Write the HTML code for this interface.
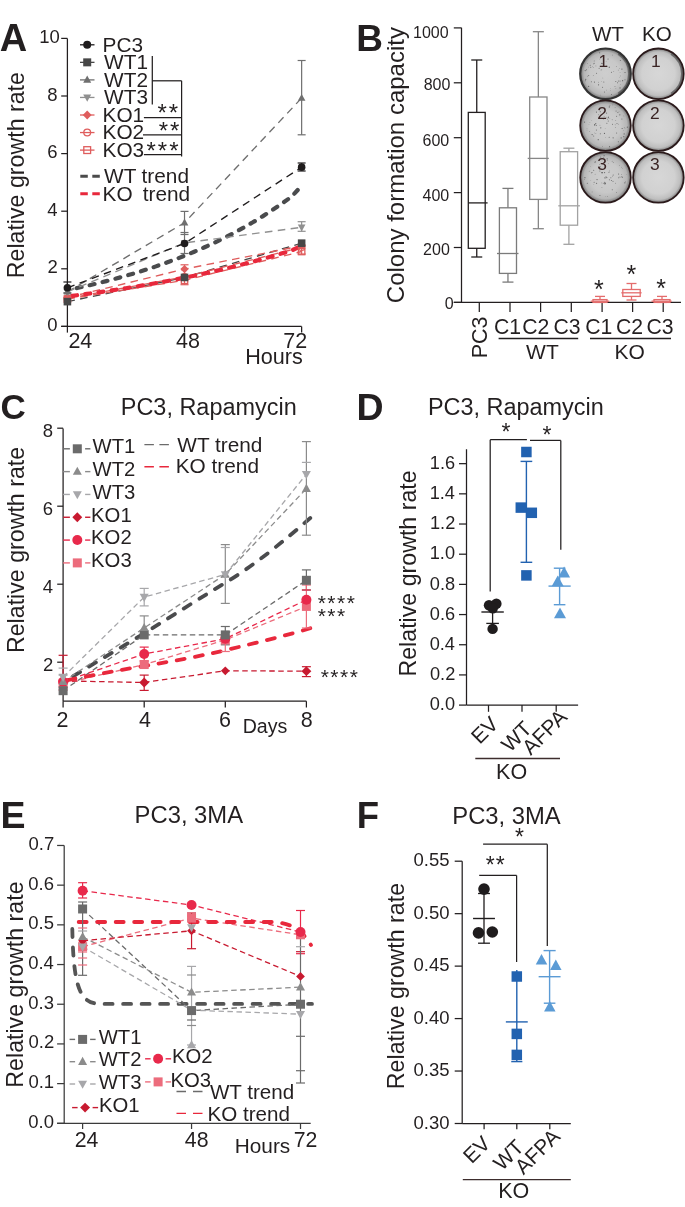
<!DOCTYPE html>
<html><head><meta charset="utf-8"><style>
html,body{margin:0;padding:0;background:#fff;overflow:hidden;width:685px;height:1207px;}
svg{display:block;font-family:"Liberation Sans", sans-serif;will-change:transform;}
</style></head><body>
<svg width="685" height="1207" viewBox="0 0 685 1207">
<rect width="685" height="1207" fill="#fff"/>
<text x="-0.25" y="51.4" font-size="38" font-weight="bold" fill="#231f20">A</text>
<line x1="67.4" y1="38.4" x2="67.4" y2="326.4" stroke="#231f20" stroke-width="1.25" stroke-linecap="butt"/>
<line x1="61.2" y1="326.4" x2="301.6" y2="326.4" stroke="#231f20" stroke-width="1.25" stroke-linecap="butt"/>
<line x1="61.2" y1="326.4" x2="67.4" y2="326.4" stroke="#231f20" stroke-width="1.25" stroke-linecap="butt"/>
<text x="47.28" y="331" font-size="18.5" fill="#231f20">0</text>
<line x1="61.2" y1="268.8" x2="67.4" y2="268.8" stroke="#231f20" stroke-width="1.25" stroke-linecap="butt"/>
<text x="47.56" y="273.4" font-size="18.5" fill="#231f20">2</text>
<line x1="61.2" y1="211.2" x2="67.4" y2="211.2" stroke="#231f20" stroke-width="1.25" stroke-linecap="butt"/>
<text x="47.19" y="215.8" font-size="18.5" fill="#231f20">4</text>
<line x1="61.2" y1="153.6" x2="67.4" y2="153.6" stroke="#231f20" stroke-width="1.25" stroke-linecap="butt"/>
<text x="47.37" y="158.2" font-size="18.5" fill="#231f20">6</text>
<line x1="61.2" y1="96" x2="67.4" y2="96" stroke="#231f20" stroke-width="1.25" stroke-linecap="butt"/>
<text x="47.37" y="100.6" font-size="18.5" fill="#231f20">8</text>
<line x1="61.2" y1="38.4" x2="67.4" y2="38.4" stroke="#231f20" stroke-width="1.25" stroke-linecap="butt"/>
<text x="39.31" y="43" font-size="18.5" fill="#231f20">10</text>
<line x1="67.4" y1="326.4" x2="67.4" y2="332.6" stroke="#231f20" stroke-width="1.25" stroke-linecap="butt"/>
<line x1="184.52" y1="326.4" x2="184.52" y2="332.6" stroke="#231f20" stroke-width="1.25" stroke-linecap="butt"/>
<line x1="301.64" y1="326.4" x2="301.64" y2="332.6" stroke="#231f20" stroke-width="1.25" stroke-linecap="butt"/>
<text x="68.42" y="348.4" font-size="21.5" fill="#231f20">24</text>
<text x="175.97" y="348.4" font-size="21.5" fill="#231f20">48</text>
<text x="283.23" y="348.4" font-size="21.5" fill="#231f20">72</text>
<text x="245.17" y="363.8" font-size="21.6" fill="#231f20">Hours</text>
<text transform="translate(23.7,278.26) rotate(-90)" font-size="23.2" fill="#231f20">Relative growth rate</text>
<polyline points="297.7,190 291.88,196.44 282.12,203.45 272.36,210.08 262.6,216.36 252.84,222.3 243.08,227.91 233.32,233.23 223.56,238.26 213.8,243.01 204.04,247.51 194.28,251.77 184.52,255.79 174.76,259.6 165,263.21 155.24,266.62 145.48,269.84 135.72,272.9 125.96,275.78 116.2,278.51 106.44,281.1 96.68,283.54 86.92,285.85 77.16,288.04 67.4,290.11" fill="none" stroke="#4a4b4d" stroke-width="4.2" stroke-linecap="round" stroke-linejoin="round" stroke-dasharray="5 8.3"/>
<polyline points="67.4,291.84 184.52,222.72 301.64,98.02" fill="none" stroke="#6f6f6f" stroke-width="1.35" stroke-linecap="butt" stroke-linejoin="round" stroke-dasharray="7.6 5.4"/>
<polyline points="67.4,291.84 184.52,242.88 301.64,227.33" fill="none" stroke="#909090" stroke-width="1.35" stroke-linecap="butt" stroke-linejoin="round" stroke-dasharray="7.6 5.4"/>
<polyline points="67.4,287.81 184.52,243.46 301.64,167.14" fill="none" stroke="#1f1c1d" stroke-width="1.35" stroke-linecap="butt" stroke-linejoin="round" stroke-dasharray="7.6 5.4"/>
<polyline points="67.4,301.63 184.52,277.44 301.64,243.17" fill="none" stroke="#474747" stroke-width="1.35" stroke-linecap="butt" stroke-linejoin="round" stroke-dasharray="7.6 5.4"/>
<polyline points="67.4,297.6 184.52,269.09 301.64,245.76" fill="none" stroke="#df5d5d" stroke-width="1.35" stroke-linecap="butt" stroke-linejoin="round" stroke-dasharray="7.6 5.4"/>
<polyline points="67.4,298.46 184.52,276.86 301.64,247.2" fill="none" stroke="#df5d5d" stroke-width="1.35" stroke-linecap="butt" stroke-linejoin="round" stroke-dasharray="7.6 5.4"/>
<polyline points="67.4,299.04 184.52,280.32 301.64,251.52" fill="none" stroke="#df5d5d" stroke-width="1.35" stroke-linecap="butt" stroke-linejoin="round" stroke-dasharray="7.6 5.4"/>
<polyline points="297.7,247.7 291.88,250.34 282.12,253.36 272.36,256.26 262.6,259.05 252.84,261.72 243.08,264.29 233.32,266.76 223.56,269.13 213.8,271.4 204.04,273.58 194.28,275.68 184.52,277.69 174.76,279.63 165,281.49 155.24,283.27 145.48,284.98 135.72,286.63 125.96,288.21 116.2,289.72 106.44,291.18 96.68,292.58 86.92,293.92 77.16,295.21 67.4,296.45" fill="none" stroke="#e8283c" stroke-width="4.2" stroke-linecap="round" stroke-linejoin="round" stroke-dasharray="5 8.3"/>
<line x1="301.64" y1="60.5" x2="301.64" y2="134.8" stroke="#6f6f6f" stroke-width="1.2" stroke-linecap="butt"/>
<line x1="297.64" y1="60.5" x2="305.64" y2="60.5" stroke="#6f6f6f" stroke-width="1.2" stroke-linecap="butt"/>
<line x1="297.64" y1="134.8" x2="305.64" y2="134.8" stroke="#6f6f6f" stroke-width="1.2" stroke-linecap="butt"/>
<line x1="184.52" y1="211.4" x2="184.52" y2="234.5" stroke="#6f6f6f" stroke-width="1.2" stroke-linecap="butt"/>
<line x1="180.52" y1="211.4" x2="188.52" y2="211.4" stroke="#6f6f6f" stroke-width="1.2" stroke-linecap="butt"/>
<line x1="180.52" y1="234.5" x2="188.52" y2="234.5" stroke="#6f6f6f" stroke-width="1.2" stroke-linecap="butt"/>
<line x1="184.52" y1="232.5" x2="184.52" y2="253.5" stroke="#6f6f6f" stroke-width="1.2" stroke-linecap="butt"/>
<line x1="180.52" y1="232.5" x2="188.52" y2="232.5" stroke="#6f6f6f" stroke-width="1.2" stroke-linecap="butt"/>
<line x1="180.52" y1="253.5" x2="188.52" y2="253.5" stroke="#6f6f6f" stroke-width="1.2" stroke-linecap="butt"/>
<line x1="301.64" y1="163" x2="301.64" y2="171" stroke="#1f1c1d" stroke-width="1.2" stroke-linecap="butt"/>
<line x1="297.64" y1="163" x2="305.64" y2="163" stroke="#1f1c1d" stroke-width="1.2" stroke-linecap="butt"/>
<line x1="297.64" y1="171" x2="305.64" y2="171" stroke="#1f1c1d" stroke-width="1.2" stroke-linecap="butt"/>
<line x1="301.64" y1="221.7" x2="301.64" y2="231.3" stroke="#909090" stroke-width="1.2" stroke-linecap="butt"/>
<line x1="297.64" y1="221.7" x2="305.64" y2="221.7" stroke="#909090" stroke-width="1.2" stroke-linecap="butt"/>
<line x1="297.64" y1="231.3" x2="305.64" y2="231.3" stroke="#909090" stroke-width="1.2" stroke-linecap="butt"/>
<line x1="67.4" y1="282" x2="67.4" y2="293" stroke="#1f1c1d" stroke-width="1.2" stroke-linecap="butt"/>
<line x1="63.4" y1="282" x2="71.4" y2="282" stroke="#1f1c1d" stroke-width="1.2" stroke-linecap="butt"/>
<line x1="63.4" y1="293" x2="71.4" y2="293" stroke="#1f1c1d" stroke-width="1.2" stroke-linecap="butt"/>
<line x1="184.52" y1="264.8" x2="184.52" y2="284.7" stroke="#df5d5d" stroke-width="1.2" stroke-linecap="butt"/>
<line x1="180.52" y1="264.8" x2="188.52" y2="264.8" stroke="#df5d5d" stroke-width="1.2" stroke-linecap="butt"/>
<line x1="180.52" y1="284.7" x2="188.52" y2="284.7" stroke="#df5d5d" stroke-width="1.2" stroke-linecap="butt"/>
<line x1="301.64" y1="245" x2="301.64" y2="254" stroke="#df5d5d" stroke-width="1.2" stroke-linecap="butt"/>
<line x1="297.64" y1="245" x2="305.64" y2="245" stroke="#df5d5d" stroke-width="1.2" stroke-linecap="butt"/>
<line x1="297.64" y1="254" x2="305.64" y2="254" stroke="#df5d5d" stroke-width="1.2" stroke-linecap="butt"/>
<rect x="64.2" y="295.84" width="6.4" height="6.4" fill="none" stroke="#df5d5d" stroke-width="1.3"/>
<rect x="181.32" y="277.12" width="6.4" height="6.4" fill="none" stroke="#df5d5d" stroke-width="1.3"/>
<rect x="298.44" y="248.32" width="6.4" height="6.4" fill="none" stroke="#df5d5d" stroke-width="1.3"/>
<circle cx="67.4" cy="298.46" r="3.2" fill="none" stroke="#df5d5d" stroke-width="1.3"/>
<circle cx="184.52" cy="276.86" r="3.2" fill="none" stroke="#df5d5d" stroke-width="1.3"/>
<circle cx="301.64" cy="247.2" r="3.2" fill="none" stroke="#df5d5d" stroke-width="1.3"/>
<polygon points="67.4,293.42 71.58,297.6 67.4,301.78 63.22,297.6" fill="#df5d5d"/>
<polygon points="184.52,264.91 188.7,269.09 184.52,273.27 180.34,269.09" fill="#df5d5d"/>
<polygon points="301.64,241.58 305.82,245.76 301.64,249.94 297.46,245.76" fill="#df5d5d"/>
<polygon points="67.4,295.94 71.2,289.1 63.6,289.1" fill="#909090"/>
<polygon points="184.52,246.98 188.32,240.14 180.72,240.14" fill="#909090"/>
<polygon points="301.64,231.43 305.44,224.59 297.84,224.59" fill="#909090"/>
<polygon points="67.4,287.74 71.2,294.58 63.6,294.58" fill="#6f6f6f"/>
<polygon points="184.52,218.62 188.32,225.46 180.72,225.46" fill="#6f6f6f"/>
<polygon points="301.64,93.91 305.44,100.75 297.84,100.75" fill="#6f6f6f"/>
<rect x="63.6" y="297.83" width="7.6" height="7.6" fill="#474747" stroke="none" stroke-width="1"/>
<rect x="180.72" y="273.64" width="7.6" height="7.6" fill="#474747" stroke="none" stroke-width="1"/>
<rect x="297.84" y="239.37" width="7.6" height="7.6" fill="#474747" stroke="none" stroke-width="1"/>
<circle cx="67.4" cy="287.81" r="3.8" fill="#1f1c1d" stroke="none" stroke-width="1"/>
<circle cx="184.52" cy="243.46" r="3.8" fill="#1f1c1d" stroke="none" stroke-width="1"/>
<circle cx="301.64" cy="167.14" r="3.8" fill="#1f1c1d" stroke="none" stroke-width="1"/>
<line x1="80" y1="44.8" x2="94.5" y2="44.8" stroke="#1f1c1d" stroke-width="1.3" stroke-linecap="butt"/>
<circle cx="87.2" cy="44.8" r="4" fill="#1f1c1d" stroke="none" stroke-width="1"/>
<text x="102.54" y="51.6" font-size="20.8" fill="#231f20">PC3</text>
<line x1="80" y1="62.35" x2="94.5" y2="62.35" stroke="#474747" stroke-width="1.3" stroke-linecap="butt"/>
<rect x="83.2" y="58.35" width="8" height="8" fill="#474747" stroke="none" stroke-width="1"/>
<text x="104.1" y="69.15" font-size="20.8" fill="#231f20">WT1</text>
<line x1="80" y1="79.9" x2="94.5" y2="79.9" stroke="#6f6f6f" stroke-width="1.3" stroke-linecap="butt"/>
<polygon points="87.2,75.58 91.2,82.78 83.2,82.78" fill="#6f6f6f"/>
<text x="104.1" y="86.7" font-size="20.8" fill="#231f20">WT2</text>
<line x1="80" y1="97.45" x2="94.5" y2="97.45" stroke="#909090" stroke-width="1.3" stroke-linecap="butt"/>
<polygon points="87.2,101.77 91.2,94.57 83.2,94.57" fill="#909090"/>
<text x="104.1" y="104.25" font-size="20.8" fill="#231f20">WT3</text>
<line x1="80" y1="115" x2="94.5" y2="115" stroke="#df5d5d" stroke-width="1.3" stroke-linecap="butt"/>
<polygon points="87.2,110.6 91.6,115 87.2,119.4 82.8,115" fill="#df5d5d"/>
<text x="102.54" y="121.8" font-size="20.8" fill="#231f20">KO1</text>
<line x1="80" y1="132.55" x2="94.5" y2="132.55" stroke="#df5d5d" stroke-width="1.3" stroke-linecap="butt"/>
<circle cx="87.2" cy="132.55" r="3.4" fill="none" stroke="#df5d5d" stroke-width="1.3"/>
<text x="102.54" y="139.35" font-size="20.8" fill="#231f20">KO2</text>
<line x1="80" y1="150.1" x2="94.5" y2="150.1" stroke="#df5d5d" stroke-width="1.3" stroke-linecap="butt"/>
<rect x="83.8" y="146.7" width="6.8" height="6.8" fill="none" stroke="#df5d5d" stroke-width="1.3"/>
<text x="102.54" y="156.9" font-size="20.8" fill="#231f20">KO3</text>
<line x1="152.3" y1="56" x2="152.3" y2="104.4" stroke="#231f20" stroke-width="1.25" stroke-linecap="butt"/>
<line x1="152.3" y1="80.8" x2="181.6" y2="80.8" stroke="#231f20" stroke-width="1.25" stroke-linecap="butt"/>
<line x1="181.6" y1="80.8" x2="181.6" y2="156.5" stroke="#231f20" stroke-width="1.25" stroke-linecap="butt"/>
<line x1="143.9" y1="117.5" x2="181.6" y2="117.5" stroke="#231f20" stroke-width="1.25" stroke-linecap="butt"/>
<line x1="143" y1="134.9" x2="181.6" y2="134.9" stroke="#231f20" stroke-width="1.25" stroke-linecap="butt"/>
<line x1="143.9" y1="154.5" x2="181.6" y2="154.5" stroke="#231f20" stroke-width="1.25" stroke-linecap="butt"/>
<text x="157.54" y="120.7" font-size="24" fill="#231f20" letter-spacing="2">**</text>
<text x="158.74" y="139.3" font-size="24" fill="#231f20" letter-spacing="2">**</text>
<text x="146.54" y="159" font-size="24" fill="#231f20" letter-spacing="2">***</text>
<line x1="80.3" y1="176.3" x2="101" y2="176.3" stroke="#4b4b4b" stroke-width="3.0" stroke-linecap="butt" stroke-dasharray="7.5 4.5"/>
<text x="104.1" y="183.3" font-size="20.8" fill="#231f20">WT</text>
<text x="141.59" y="183.3" font-size="20.8" fill="#231f20">trend</text>
<line x1="80.3" y1="193.7" x2="101" y2="193.7" stroke="#e8283c" stroke-width="3.0" stroke-linecap="butt" stroke-dasharray="7.5 4.5"/>
<text x="102.54" y="200.7" font-size="20.8" fill="#231f20">KO</text>
<text x="142.69" y="200.7" font-size="20.8" fill="#231f20">trend</text>
<text x="356.2" y="50.9" font-size="37" font-weight="bold" fill="#231f20">B</text>
<line x1="461.5" y1="27.8" x2="461.5" y2="302.4" stroke="#231f20" stroke-width="1.25" stroke-linecap="butt"/>
<line x1="453.8" y1="302.4" x2="681" y2="302.4" stroke="#231f20" stroke-width="1.25" stroke-linecap="butt"/>
<line x1="453.8" y1="27.9" x2="461.5" y2="27.9" stroke="#231f20" stroke-width="1.25" stroke-linecap="butt"/>
<text x="413.06" y="37.8" font-size="16" fill="#231f20">1000</text>
<line x1="453.8" y1="82.8" x2="461.5" y2="82.8" stroke="#231f20" stroke-width="1.25" stroke-linecap="butt"/>
<text x="423.72" y="89.9" font-size="16" fill="#231f20">800</text>
<line x1="453.8" y1="137.7" x2="461.5" y2="137.7" stroke="#231f20" stroke-width="1.25" stroke-linecap="butt"/>
<text x="422.52" y="146.2" font-size="16" fill="#231f20">600</text>
<line x1="453.8" y1="192.6" x2="461.5" y2="192.6" stroke="#231f20" stroke-width="1.25" stroke-linecap="butt"/>
<text x="422.52" y="200.9" font-size="16" fill="#231f20">400</text>
<line x1="453.8" y1="247.5" x2="461.5" y2="247.5" stroke="#231f20" stroke-width="1.25" stroke-linecap="butt"/>
<text x="423.12" y="254.5" font-size="16" fill="#231f20">200</text>
<line x1="453.8" y1="302.4" x2="461.5" y2="302.4" stroke="#231f20" stroke-width="1.25" stroke-linecap="butt"/>
<text x="444.68" y="308.8" font-size="16" fill="#231f20">0</text>
<text transform="translate(404,303.2) rotate(-90)" font-size="24" fill="#231f20">Colony formation capacity</text>
<line x1="479.3" y1="302.4" x2="479.3" y2="312" stroke="#231f20" stroke-width="1.25" stroke-linecap="butt"/>
<line x1="510" y1="302.4" x2="510" y2="312" stroke="#231f20" stroke-width="1.25" stroke-linecap="butt"/>
<line x1="540.6" y1="302.4" x2="540.6" y2="312" stroke="#231f20" stroke-width="1.25" stroke-linecap="butt"/>
<line x1="571.3" y1="302.4" x2="571.3" y2="312" stroke="#231f20" stroke-width="1.25" stroke-linecap="butt"/>
<line x1="602.1" y1="302.4" x2="602.1" y2="312" stroke="#231f20" stroke-width="1.25" stroke-linecap="butt"/>
<line x1="632.6" y1="302.4" x2="632.6" y2="312" stroke="#231f20" stroke-width="1.25" stroke-linecap="butt"/>
<line x1="663.2" y1="302.4" x2="663.2" y2="312" stroke="#231f20" stroke-width="1.25" stroke-linecap="butt"/>
<line x1="476.75" y1="60" x2="476.75" y2="112.4" stroke="#231f20" stroke-width="1.3" stroke-linecap="butt"/>
<line x1="476.75" y1="248.3" x2="476.75" y2="257" stroke="#231f20" stroke-width="1.3" stroke-linecap="butt"/>
<line x1="471.25" y1="60" x2="482.25" y2="60" stroke="#231f20" stroke-width="1.3" stroke-linecap="butt"/>
<line x1="471.25" y1="257" x2="482.25" y2="257" stroke="#231f20" stroke-width="1.3" stroke-linecap="butt"/>
<rect x="468.3" y="112.4" width="16.9" height="135.9" fill="none" stroke="#231f20" stroke-width="1.3"/>
<line x1="468.3" y1="202.9" x2="487.6" y2="202.9" stroke="#231f20" stroke-width="1.3" stroke-linecap="butt"/>
<line x1="507.95" y1="188.4" x2="507.95" y2="207.8" stroke="#7b7b7b" stroke-width="1.3" stroke-linecap="butt"/>
<line x1="507.95" y1="273.4" x2="507.95" y2="282.1" stroke="#7b7b7b" stroke-width="1.3" stroke-linecap="butt"/>
<line x1="502.45" y1="188.4" x2="513.45" y2="188.4" stroke="#7b7b7b" stroke-width="1.3" stroke-linecap="butt"/>
<line x1="502.45" y1="282.1" x2="513.45" y2="282.1" stroke="#7b7b7b" stroke-width="1.3" stroke-linecap="butt"/>
<rect x="499.4" y="207.8" width="17.1" height="65.6" fill="none" stroke="#7b7b7b" stroke-width="1.3"/>
<line x1="497" y1="253.5" x2="518.5" y2="253.5" stroke="#7b7b7b" stroke-width="1.3" stroke-linecap="butt"/>
<line x1="538.35" y1="31.7" x2="538.35" y2="97" stroke="#878787" stroke-width="1.3" stroke-linecap="butt"/>
<line x1="538.35" y1="199.4" x2="538.35" y2="228.7" stroke="#878787" stroke-width="1.3" stroke-linecap="butt"/>
<line x1="532.85" y1="31.7" x2="543.85" y2="31.7" stroke="#878787" stroke-width="1.3" stroke-linecap="butt"/>
<line x1="532.85" y1="228.7" x2="543.85" y2="228.7" stroke="#878787" stroke-width="1.3" stroke-linecap="butt"/>
<rect x="529.7" y="97" width="17.3" height="102.4" fill="none" stroke="#878787" stroke-width="1.3"/>
<line x1="527.7" y1="158.4" x2="548.8" y2="158.4" stroke="#878787" stroke-width="1.3" stroke-linecap="butt"/>
<line x1="568.9" y1="148.2" x2="568.9" y2="151.7" stroke="#a2a2a2" stroke-width="1.3" stroke-linecap="butt"/>
<line x1="568.9" y1="225.2" x2="568.9" y2="244.3" stroke="#a2a2a2" stroke-width="1.3" stroke-linecap="butt"/>
<line x1="563.4" y1="148.2" x2="574.4" y2="148.2" stroke="#a2a2a2" stroke-width="1.3" stroke-linecap="butt"/>
<line x1="563.4" y1="244.3" x2="574.4" y2="244.3" stroke="#a2a2a2" stroke-width="1.3" stroke-linecap="butt"/>
<rect x="560.2" y="151.7" width="17.4" height="73.5" fill="none" stroke="#a2a2a2" stroke-width="1.3"/>
<line x1="558.3" y1="205.8" x2="579.9" y2="205.8" stroke="#a2a2a2" stroke-width="1.3" stroke-linecap="butt"/>
<line x1="600" y1="296.4" x2="600" y2="299.6" stroke="#e46c6c" stroke-width="1.3" stroke-linecap="butt"/>
<line x1="600" y1="302.4" x2="600" y2="302.4" stroke="#e46c6c" stroke-width="1.3" stroke-linecap="butt"/>
<line x1="595" y1="296.4" x2="605" y2="296.4" stroke="#e46c6c" stroke-width="1.3" stroke-linecap="butt"/>
<line x1="595" y1="302.4" x2="605" y2="302.4" stroke="#e46c6c" stroke-width="1.3" stroke-linecap="butt"/>
<rect x="593" y="299.6" width="14" height="2.8" fill="none" stroke="#e46c6c" stroke-width="1.3"/>
<line x1="590.7" y1="301.2" x2="609.3" y2="301.2" stroke="#e46c6c" stroke-width="1.3" stroke-linecap="butt"/>
<line x1="631.5" y1="283.5" x2="631.5" y2="289.5" stroke="#e46c6c" stroke-width="1.3" stroke-linecap="butt"/>
<line x1="631.5" y1="296.4" x2="631.5" y2="300" stroke="#e46c6c" stroke-width="1.3" stroke-linecap="butt"/>
<line x1="626.5" y1="283.5" x2="636.5" y2="283.5" stroke="#e46c6c" stroke-width="1.3" stroke-linecap="butt"/>
<line x1="626.5" y1="300" x2="636.5" y2="300" stroke="#e46c6c" stroke-width="1.3" stroke-linecap="butt"/>
<rect x="622.8" y="289.5" width="17.4" height="6.9" fill="none" stroke="#e46c6c" stroke-width="1.3"/>
<line x1="621.3" y1="292.8" x2="641.6" y2="292.8" stroke="#e46c6c" stroke-width="1.3" stroke-linecap="butt"/>
<line x1="662" y1="296.4" x2="662" y2="299.6" stroke="#e46c6c" stroke-width="1.3" stroke-linecap="butt"/>
<line x1="662" y1="302.4" x2="662" y2="302.4" stroke="#e46c6c" stroke-width="1.3" stroke-linecap="butt"/>
<line x1="657" y1="296.4" x2="667" y2="296.4" stroke="#e46c6c" stroke-width="1.3" stroke-linecap="butt"/>
<line x1="657" y1="302.4" x2="667" y2="302.4" stroke="#e46c6c" stroke-width="1.3" stroke-linecap="butt"/>
<rect x="654" y="299.6" width="16" height="2.8" fill="none" stroke="#e46c6c" stroke-width="1.3"/>
<line x1="651.5" y1="301.2" x2="671.6" y2="301.2" stroke="#e46c6c" stroke-width="1.3" stroke-linecap="butt"/>
<text x="594.12" y="298.25" font-size="25" fill="#231f20">*</text>
<text x="626.42" y="282.75" font-size="25" fill="#231f20">*</text>
<text x="656.23" y="296.65" font-size="25" fill="#231f20">*</text>
<text transform="translate(487.2,358.32) rotate(-90)" font-size="21.5" fill="#231f20">PC3</text>
<text x="493.94" y="334" font-size="21.2" fill="#231f20">C1</text>
<text x="522.24" y="334" font-size="21.2" fill="#231f20">C2</text>
<text x="553.44" y="334" font-size="21.2" fill="#231f20">C3</text>
<text x="585.24" y="334" font-size="21.2" fill="#231f20">C1</text>
<text x="615.94" y="334" font-size="21.2" fill="#231f20">C2</text>
<text x="646.54" y="334" font-size="21.2" fill="#231f20">C3</text>
<line x1="498.6" y1="338.6" x2="578.2" y2="338.6" stroke="#231f20" stroke-width="1.5" stroke-linecap="butt"/>
<line x1="590" y1="338.6" x2="671" y2="338.6" stroke="#231f20" stroke-width="1.5" stroke-linecap="butt"/>
<text x="526.1" y="359" font-size="21" fill="#231f20">WT</text>
<text x="614.52" y="359" font-size="21" fill="#231f20">KO</text>
<defs>
<radialGradient id="pw" cx="0.5" cy="0.5" r="0.5"><stop offset="0" stop-color="#cecece"/><stop offset="0.6" stop-color="#c8c8c8"/><stop offset="0.85" stop-color="#b6b6b6"/><stop offset="0.95" stop-color="#888"/><stop offset="1" stop-color="#4a4a4a"/></radialGradient>
<radialGradient id="pk" cx="0.5" cy="0.5" r="0.5"><stop offset="0" stop-color="#d7d7d7"/><stop offset="0.65" stop-color="#d1d1d1"/><stop offset="0.87" stop-color="#bebebe"/><stop offset="0.96" stop-color="#8e8e8e"/><stop offset="1" stop-color="#555"/></radialGradient>
</defs>
<circle cx="605.5" cy="73.8" r="25.3" fill="url(#pw)" stroke="#333" stroke-width="2.2"/>
<path d="M618.25,53.94 A23.6,23.6 0 0 1 618.25,93.66" fill="none" stroke="#3a3a3a" stroke-width="2" opacity="0.55"/>
<circle cx="601.68" cy="81.44" r="0.3" fill="#666" stroke="none" stroke-width="1"/>
<circle cx="619.97" cy="80.88" r="0.5" fill="#666" stroke="none" stroke-width="1"/>
<circle cx="587.29" cy="63.37" r="0.4" fill="#666" stroke="none" stroke-width="1"/>
<circle cx="619.59" cy="77.18" r="0.3" fill="#666" stroke="none" stroke-width="1"/>
<circle cx="606.46" cy="90.1" r="0.3" fill="#666" stroke="none" stroke-width="1"/>
<circle cx="609.09" cy="66.94" r="0.4" fill="#666" stroke="none" stroke-width="1"/>
<circle cx="594.05" cy="61.51" r="0.3" fill="#666" stroke="none" stroke-width="1"/>
<circle cx="593.24" cy="67.35" r="0.4" fill="#666" stroke="none" stroke-width="1"/>
<circle cx="625.02" cy="79.68" r="0.5" fill="#666" stroke="none" stroke-width="1"/>
<circle cx="591.37" cy="81.67" r="0.5" fill="#666" stroke="none" stroke-width="1"/>
<circle cx="588.62" cy="67.09" r="0.3" fill="#666" stroke="none" stroke-width="1"/>
<circle cx="590.18" cy="65.18" r="0.5" fill="#666" stroke="none" stroke-width="1"/>
<circle cx="620.69" cy="84.47" r="0.3" fill="#666" stroke="none" stroke-width="1"/>
<circle cx="594.13" cy="63.26" r="0.6" fill="#666" stroke="none" stroke-width="1"/>
<circle cx="608.05" cy="59.01" r="0.6" fill="#666" stroke="none" stroke-width="1"/>
<circle cx="598.43" cy="82.18" r="0.4" fill="#666" stroke="none" stroke-width="1"/>
<circle cx="602.07" cy="63.48" r="0.5" fill="#666" stroke="none" stroke-width="1"/>
<circle cx="585.18" cy="70.56" r="0.6" fill="#666" stroke="none" stroke-width="1"/>
<circle cx="600.36" cy="94.97" r="0.3" fill="#666" stroke="none" stroke-width="1"/>
<circle cx="596.59" cy="73.13" r="0.5" fill="#666" stroke="none" stroke-width="1"/>
<circle cx="614.39" cy="86.36" r="0.3" fill="#666" stroke="none" stroke-width="1"/>
<circle cx="611.46" cy="72.35" r="0.5" fill="#666" stroke="none" stroke-width="1"/>
<circle cx="598.52" cy="84.79" r="0.6" fill="#666" stroke="none" stroke-width="1"/>
<circle cx="592.47" cy="66.65" r="0.3" fill="#666" stroke="none" stroke-width="1"/>
<circle cx="619.74" cy="68.64" r="0.3" fill="#666" stroke="none" stroke-width="1"/>
<circle cx="622.6" cy="80.65" r="0.6" fill="#666" stroke="none" stroke-width="1"/>
<circle cx="602.55" cy="87.14" r="0.5" fill="#666" stroke="none" stroke-width="1"/>
<circle cx="620.3" cy="75.91" r="0.4" fill="#666" stroke="none" stroke-width="1"/>
<circle cx="593.65" cy="63.88" r="0.4" fill="#666" stroke="none" stroke-width="1"/>
<circle cx="606.4" cy="65.94" r="0.4" fill="#666" stroke="none" stroke-width="1"/>
<circle cx="588.62" cy="86.41" r="0.6" fill="#666" stroke="none" stroke-width="1"/>
<circle cx="618.39" cy="80.95" r="0.5" fill="#666" stroke="none" stroke-width="1"/>
<circle cx="620.3" cy="60.48" r="0.5" fill="#666" stroke="none" stroke-width="1"/>
<circle cx="599.59" cy="52.77" r="0.6" fill="#666" stroke="none" stroke-width="1"/>
<circle cx="613.75" cy="71.56" r="0.4" fill="#666" stroke="none" stroke-width="1"/>
<circle cx="615.88" cy="88.33" r="0.3" fill="#666" stroke="none" stroke-width="1"/>
<circle cx="588.69" cy="75.39" r="0.5" fill="#666" stroke="none" stroke-width="1"/>
<circle cx="603.83" cy="82.03" r="0.5" fill="#666" stroke="none" stroke-width="1"/>
<circle cx="595.92" cy="65.9" r="0.4" fill="#666" stroke="none" stroke-width="1"/>
<circle cx="599.73" cy="59.1" r="0.3" fill="#666" stroke="none" stroke-width="1"/>
<circle cx="585.73" cy="79.33" r="0.6" fill="#666" stroke="none" stroke-width="1"/>
<circle cx="594.43" cy="82.05" r="0.6" fill="#666" stroke="none" stroke-width="1"/>
<circle cx="601.85" cy="69.7" r="0.3" fill="#666" stroke="none" stroke-width="1"/>
<circle cx="620.04" cy="72.39" r="0.3" fill="#666" stroke="none" stroke-width="1"/>
<circle cx="602.8" cy="78.06" r="0.3" fill="#666" stroke="none" stroke-width="1"/>
<circle cx="590.78" cy="67.24" r="0.5" fill="#666" stroke="none" stroke-width="1"/>
<circle cx="601.09" cy="69.98" r="0.4" fill="#666" stroke="none" stroke-width="1"/>
<circle cx="599.11" cy="68.23" r="0.5" fill="#666" stroke="none" stroke-width="1"/>
<circle cx="621.91" cy="69.08" r="0.6" fill="#666" stroke="none" stroke-width="1"/>
<circle cx="620.03" cy="87.94" r="0.6" fill="#666" stroke="none" stroke-width="1"/>
<circle cx="593.31" cy="75.31" r="0.4" fill="#666" stroke="none" stroke-width="1"/>
<circle cx="615.81" cy="81.51" r="0.5" fill="#666" stroke="none" stroke-width="1"/>
<circle cx="587.36" cy="76.25" r="0.3" fill="#666" stroke="none" stroke-width="1"/>
<circle cx="611.46" cy="94.42" r="0.5" fill="#666" stroke="none" stroke-width="1"/>
<circle cx="615.31" cy="86.71" r="0.3" fill="#666" stroke="none" stroke-width="1"/>
<circle cx="606.11" cy="61.8" r="0.3" fill="#666" stroke="none" stroke-width="1"/>
<circle cx="601.77" cy="63.19" r="0.5" fill="#666" stroke="none" stroke-width="1"/>
<circle cx="616.5" cy="66.65" r="0.4" fill="#666" stroke="none" stroke-width="1"/>
<circle cx="586.49" cy="69.85" r="0.5" fill="#666" stroke="none" stroke-width="1"/>
<circle cx="594.22" cy="60.78" r="0.4" fill="#666" stroke="none" stroke-width="1"/>
<circle cx="612.37" cy="55.12" r="0.4" fill="#666" stroke="none" stroke-width="1"/>
<circle cx="610.28" cy="88.49" r="0.3" fill="#666" stroke="none" stroke-width="1"/>
<circle cx="625.01" cy="72.52" r="0.6" fill="#666" stroke="none" stroke-width="1"/>
<circle cx="604.45" cy="92.08" r="0.5" fill="#666" stroke="none" stroke-width="1"/>
<circle cx="585.36" cy="80.73" r="0.5" fill="#666" stroke="none" stroke-width="1"/>
<circle cx="618.26" cy="70.09" r="0.4" fill="#666" stroke="none" stroke-width="1"/>
<circle cx="617.58" cy="82.83" r="0.5" fill="#666" stroke="none" stroke-width="1"/>
<circle cx="610.42" cy="90.47" r="0.3" fill="#666" stroke="none" stroke-width="1"/>
<circle cx="587.87" cy="76.09" r="0.3" fill="#666" stroke="none" stroke-width="1"/>
<circle cx="609.36" cy="67.23" r="0.6" fill="#666" stroke="none" stroke-width="1"/>
<text x="598.6" y="66.8" font-size="17.4" fill="#3a2424">1</text>
<circle cx="658.4" cy="73.8" r="25.3" fill="url(#pk)" stroke="#2b1a1b" stroke-width="1.8"/>
<path d="M671.15,53.94 A23.6,23.6 0 0 1 671.15,93.66" fill="none" stroke="#3a3a3a" stroke-width="2" opacity="0.55"/>
<text x="650.9" y="66.8" font-size="17.4" fill="#3a2424">1</text>
<circle cx="605.5" cy="125.6" r="25.3" fill="url(#pw)" stroke="#2b1a1b" stroke-width="1.8"/>
<circle cx="609.34" cy="106.94" r="0.6" fill="#666" stroke="none" stroke-width="1"/>
<circle cx="616.61" cy="116.29" r="0.5" fill="#666" stroke="none" stroke-width="1"/>
<circle cx="623.8" cy="136.69" r="0.6" fill="#666" stroke="none" stroke-width="1"/>
<circle cx="587.04" cy="129.95" r="0.3" fill="#666" stroke="none" stroke-width="1"/>
<circle cx="604.07" cy="116.64" r="0.4" fill="#666" stroke="none" stroke-width="1"/>
<circle cx="622.16" cy="128.51" r="0.6" fill="#666" stroke="none" stroke-width="1"/>
<circle cx="608.42" cy="117.71" r="0.6" fill="#666" stroke="none" stroke-width="1"/>
<circle cx="598.33" cy="114.73" r="0.4" fill="#666" stroke="none" stroke-width="1"/>
<circle cx="624.99" cy="128.24" r="0.3" fill="#666" stroke="none" stroke-width="1"/>
<circle cx="584.54" cy="122.07" r="0.6" fill="#666" stroke="none" stroke-width="1"/>
<circle cx="615.18" cy="124.78" r="0.4" fill="#666" stroke="none" stroke-width="1"/>
<circle cx="615.49" cy="127.38" r="0.4" fill="#666" stroke="none" stroke-width="1"/>
<circle cx="606.58" cy="113.09" r="0.6" fill="#666" stroke="none" stroke-width="1"/>
<circle cx="608.24" cy="120.91" r="0.5" fill="#666" stroke="none" stroke-width="1"/>
<circle cx="619.83" cy="114.86" r="0.6" fill="#666" stroke="none" stroke-width="1"/>
<circle cx="615.1" cy="107.36" r="0.4" fill="#666" stroke="none" stroke-width="1"/>
<circle cx="589.9" cy="122.44" r="0.3" fill="#666" stroke="none" stroke-width="1"/>
<circle cx="619.02" cy="111.7" r="0.3" fill="#666" stroke="none" stroke-width="1"/>
<circle cx="606.89" cy="117.2" r="0.4" fill="#666" stroke="none" stroke-width="1"/>
<circle cx="587.02" cy="128.71" r="0.3" fill="#666" stroke="none" stroke-width="1"/>
<circle cx="598.22" cy="139.67" r="0.6" fill="#666" stroke="none" stroke-width="1"/>
<circle cx="607.03" cy="118.6" r="0.3" fill="#666" stroke="none" stroke-width="1"/>
<circle cx="605.61" cy="137.18" r="0.3" fill="#666" stroke="none" stroke-width="1"/>
<circle cx="589.03" cy="124.8" r="0.3" fill="#666" stroke="none" stroke-width="1"/>
<circle cx="589.37" cy="131.61" r="0.4" fill="#666" stroke="none" stroke-width="1"/>
<circle cx="600.29" cy="111.75" r="0.6" fill="#666" stroke="none" stroke-width="1"/>
<circle cx="594.56" cy="125.07" r="0.5" fill="#666" stroke="none" stroke-width="1"/>
<circle cx="623.89" cy="115.9" r="0.4" fill="#666" stroke="none" stroke-width="1"/>
<circle cx="609.86" cy="118.72" r="0.3" fill="#666" stroke="none" stroke-width="1"/>
<circle cx="595.86" cy="133.34" r="0.4" fill="#666" stroke="none" stroke-width="1"/>
<circle cx="596.37" cy="130.02" r="0.5" fill="#666" stroke="none" stroke-width="1"/>
<circle cx="609.91" cy="105.23" r="0.4" fill="#666" stroke="none" stroke-width="1"/>
<circle cx="621.89" cy="119.05" r="0.5" fill="#666" stroke="none" stroke-width="1"/>
<circle cx="618.38" cy="141.77" r="0.6" fill="#666" stroke="none" stroke-width="1"/>
<circle cx="609.58" cy="146.68" r="0.6" fill="#666" stroke="none" stroke-width="1"/>
<circle cx="612.15" cy="119.73" r="0.4" fill="#666" stroke="none" stroke-width="1"/>
<circle cx="613.13" cy="137.87" r="0.6" fill="#666" stroke="none" stroke-width="1"/>
<circle cx="600.33" cy="133.85" r="0.5" fill="#666" stroke="none" stroke-width="1"/>
<circle cx="616.64" cy="132.89" r="0.5" fill="#666" stroke="none" stroke-width="1"/>
<circle cx="591.73" cy="120.74" r="0.3" fill="#666" stroke="none" stroke-width="1"/>
<circle cx="593.67" cy="136.12" r="0.5" fill="#666" stroke="none" stroke-width="1"/>
<circle cx="599.94" cy="125.17" r="0.4" fill="#666" stroke="none" stroke-width="1"/>
<circle cx="612.51" cy="124.34" r="0.5" fill="#666" stroke="none" stroke-width="1"/>
<circle cx="602.63" cy="146.34" r="0.4" fill="#666" stroke="none" stroke-width="1"/>
<circle cx="604.49" cy="133.45" r="0.6" fill="#666" stroke="none" stroke-width="1"/>
<circle cx="616.09" cy="110.94" r="0.5" fill="#666" stroke="none" stroke-width="1"/>
<circle cx="592.12" cy="134.58" r="0.6" fill="#666" stroke="none" stroke-width="1"/>
<circle cx="603.48" cy="119.34" r="0.3" fill="#666" stroke="none" stroke-width="1"/>
<circle cx="608.39" cy="116.63" r="0.3" fill="#666" stroke="none" stroke-width="1"/>
<circle cx="605.16" cy="128.43" r="0.3" fill="#666" stroke="none" stroke-width="1"/>
<circle cx="607.53" cy="119.57" r="0.4" fill="#666" stroke="none" stroke-width="1"/>
<circle cx="624.17" cy="133.91" r="0.6" fill="#666" stroke="none" stroke-width="1"/>
<circle cx="627.38" cy="127.19" r="0.6" fill="#666" stroke="none" stroke-width="1"/>
<circle cx="615.7" cy="120.54" r="0.4" fill="#666" stroke="none" stroke-width="1"/>
<circle cx="623.35" cy="130.57" r="0.3" fill="#666" stroke="none" stroke-width="1"/>
<circle cx="616.55" cy="123.43" r="0.4" fill="#666" stroke="none" stroke-width="1"/>
<circle cx="609.17" cy="137.33" r="0.5" fill="#666" stroke="none" stroke-width="1"/>
<circle cx="595.71" cy="123.66" r="0.6" fill="#666" stroke="none" stroke-width="1"/>
<circle cx="596.22" cy="125.6" r="0.5" fill="#666" stroke="none" stroke-width="1"/>
<circle cx="612.76" cy="104.9" r="0.3" fill="#666" stroke="none" stroke-width="1"/>
<circle cx="624.25" cy="127.41" r="0.4" fill="#666" stroke="none" stroke-width="1"/>
<circle cx="594.64" cy="124.63" r="0.6" fill="#666" stroke="none" stroke-width="1"/>
<circle cx="621.13" cy="137.93" r="0.6" fill="#666" stroke="none" stroke-width="1"/>
<circle cx="596.49" cy="112.07" r="0.6" fill="#666" stroke="none" stroke-width="1"/>
<circle cx="617.49" cy="123.33" r="0.4" fill="#666" stroke="none" stroke-width="1"/>
<circle cx="618.3" cy="124.18" r="0.4" fill="#666" stroke="none" stroke-width="1"/>
<circle cx="594.79" cy="132.91" r="0.3" fill="#666" stroke="none" stroke-width="1"/>
<circle cx="606.86" cy="123.36" r="0.5" fill="#666" stroke="none" stroke-width="1"/>
<circle cx="600.8" cy="127.78" r="0.6" fill="#666" stroke="none" stroke-width="1"/>
<circle cx="617.87" cy="112.51" r="0.5" fill="#666" stroke="none" stroke-width="1"/>
<text x="597.13" y="118.6" font-size="17.4" fill="#3a2424">2</text>
<circle cx="658.4" cy="125.6" r="25.3" fill="url(#pk)" stroke="#2b1a1b" stroke-width="1.8"/>
<text x="649.93" y="118.6" font-size="17.4" fill="#3a2424">2</text>
<circle cx="605.5" cy="177.4" r="25.3" fill="url(#pw)" stroke="#2b1a1b" stroke-width="1.8"/>
<circle cx="590.6" cy="166.75" r="0.3" fill="#666" stroke="none" stroke-width="1"/>
<circle cx="597.05" cy="179.6" r="0.6" fill="#666" stroke="none" stroke-width="1"/>
<circle cx="618.77" cy="177.7" r="0.5" fill="#666" stroke="none" stroke-width="1"/>
<circle cx="621.53" cy="174.61" r="0.4" fill="#666" stroke="none" stroke-width="1"/>
<circle cx="625.68" cy="181.84" r="0.4" fill="#666" stroke="none" stroke-width="1"/>
<circle cx="605.05" cy="177.96" r="0.6" fill="#666" stroke="none" stroke-width="1"/>
<circle cx="615.54" cy="183.24" r="0.4" fill="#666" stroke="none" stroke-width="1"/>
<circle cx="605.72" cy="196.78" r="0.3" fill="#666" stroke="none" stroke-width="1"/>
<circle cx="604.91" cy="183.96" r="0.6" fill="#666" stroke="none" stroke-width="1"/>
<circle cx="593.69" cy="170.24" r="0.5" fill="#666" stroke="none" stroke-width="1"/>
<circle cx="601.95" cy="187.4" r="0.4" fill="#666" stroke="none" stroke-width="1"/>
<circle cx="595.28" cy="161.84" r="0.6" fill="#666" stroke="none" stroke-width="1"/>
<circle cx="607.17" cy="158.8" r="0.6" fill="#666" stroke="none" stroke-width="1"/>
<circle cx="616.56" cy="192.51" r="0.4" fill="#666" stroke="none" stroke-width="1"/>
<circle cx="624.85" cy="182.86" r="0.6" fill="#666" stroke="none" stroke-width="1"/>
<circle cx="603.49" cy="157.68" r="0.4" fill="#666" stroke="none" stroke-width="1"/>
<circle cx="621.61" cy="167.16" r="0.3" fill="#666" stroke="none" stroke-width="1"/>
<circle cx="613.26" cy="162.49" r="0.4" fill="#666" stroke="none" stroke-width="1"/>
<circle cx="609.37" cy="179.69" r="0.5" fill="#666" stroke="none" stroke-width="1"/>
<circle cx="618.57" cy="174" r="0.6" fill="#666" stroke="none" stroke-width="1"/>
<circle cx="589.23" cy="171.14" r="0.4" fill="#666" stroke="none" stroke-width="1"/>
<circle cx="604.24" cy="177.49" r="0.3" fill="#666" stroke="none" stroke-width="1"/>
<circle cx="605.33" cy="161.8" r="0.3" fill="#666" stroke="none" stroke-width="1"/>
<circle cx="602.45" cy="172.64" r="0.6" fill="#666" stroke="none" stroke-width="1"/>
<circle cx="605.42" cy="183.4" r="0.5" fill="#666" stroke="none" stroke-width="1"/>
<circle cx="607.33" cy="196.45" r="0.4" fill="#666" stroke="none" stroke-width="1"/>
<circle cx="604.11" cy="155.71" r="0.6" fill="#666" stroke="none" stroke-width="1"/>
<circle cx="608.94" cy="172.37" r="0.5" fill="#666" stroke="none" stroke-width="1"/>
<circle cx="607.34" cy="160.22" r="0.4" fill="#666" stroke="none" stroke-width="1"/>
<circle cx="612.97" cy="181.35" r="0.5" fill="#666" stroke="none" stroke-width="1"/>
<circle cx="594.88" cy="162.48" r="0.4" fill="#666" stroke="none" stroke-width="1"/>
<circle cx="610.9" cy="177.82" r="0.5" fill="#666" stroke="none" stroke-width="1"/>
<circle cx="612.34" cy="176.21" r="0.4" fill="#666" stroke="none" stroke-width="1"/>
<circle cx="600.16" cy="166.81" r="0.5" fill="#666" stroke="none" stroke-width="1"/>
<circle cx="590.85" cy="180.71" r="0.3" fill="#666" stroke="none" stroke-width="1"/>
<circle cx="621.79" cy="176.71" r="0.5" fill="#666" stroke="none" stroke-width="1"/>
<circle cx="626.59" cy="174.48" r="0.3" fill="#666" stroke="none" stroke-width="1"/>
<circle cx="604" cy="183.3" r="0.6" fill="#666" stroke="none" stroke-width="1"/>
<circle cx="619.17" cy="176.88" r="0.4" fill="#666" stroke="none" stroke-width="1"/>
<circle cx="611.4" cy="180.39" r="0.5" fill="#666" stroke="none" stroke-width="1"/>
<circle cx="613.16" cy="175.05" r="0.5" fill="#666" stroke="none" stroke-width="1"/>
<circle cx="619.48" cy="165.36" r="0.4" fill="#666" stroke="none" stroke-width="1"/>
<circle cx="584.91" cy="177.68" r="0.6" fill="#666" stroke="none" stroke-width="1"/>
<circle cx="606.8" cy="177.6" r="0.6" fill="#666" stroke="none" stroke-width="1"/>
<circle cx="599.66" cy="164.67" r="0.4" fill="#666" stroke="none" stroke-width="1"/>
<circle cx="593.84" cy="184.18" r="0.3" fill="#666" stroke="none" stroke-width="1"/>
<circle cx="605.99" cy="176.63" r="0.5" fill="#666" stroke="none" stroke-width="1"/>
<circle cx="609.55" cy="170.94" r="0.4" fill="#666" stroke="none" stroke-width="1"/>
<circle cx="600.69" cy="157.07" r="0.5" fill="#666" stroke="none" stroke-width="1"/>
<circle cx="605.39" cy="183.01" r="0.6" fill="#666" stroke="none" stroke-width="1"/>
<circle cx="622.39" cy="177.27" r="0.5" fill="#666" stroke="none" stroke-width="1"/>
<circle cx="622.56" cy="168.76" r="0.3" fill="#666" stroke="none" stroke-width="1"/>
<circle cx="604.54" cy="182.31" r="0.5" fill="#666" stroke="none" stroke-width="1"/>
<circle cx="599.88" cy="171.03" r="0.5" fill="#666" stroke="none" stroke-width="1"/>
<circle cx="594.12" cy="182.22" r="0.5" fill="#666" stroke="none" stroke-width="1"/>
<circle cx="608.65" cy="163.36" r="0.3" fill="#666" stroke="none" stroke-width="1"/>
<circle cx="612.13" cy="161.23" r="0.4" fill="#666" stroke="none" stroke-width="1"/>
<circle cx="604.57" cy="172.6" r="0.6" fill="#666" stroke="none" stroke-width="1"/>
<circle cx="587.32" cy="183.2" r="0.5" fill="#666" stroke="none" stroke-width="1"/>
<circle cx="584.58" cy="179.3" r="0.4" fill="#666" stroke="none" stroke-width="1"/>
<circle cx="612.27" cy="189.85" r="0.5" fill="#666" stroke="none" stroke-width="1"/>
<circle cx="599.91" cy="195.47" r="0.5" fill="#666" stroke="none" stroke-width="1"/>
<circle cx="596.57" cy="183.37" r="0.6" fill="#666" stroke="none" stroke-width="1"/>
<circle cx="592.57" cy="172.53" r="0.4" fill="#666" stroke="none" stroke-width="1"/>
<circle cx="601.75" cy="172.68" r="0.6" fill="#666" stroke="none" stroke-width="1"/>
<circle cx="591.43" cy="172.79" r="0.5" fill="#666" stroke="none" stroke-width="1"/>
<circle cx="620.25" cy="177.07" r="0.4" fill="#666" stroke="none" stroke-width="1"/>
<circle cx="595.12" cy="174.19" r="0.4" fill="#666" stroke="none" stroke-width="1"/>
<circle cx="601.87" cy="182.96" r="0.4" fill="#666" stroke="none" stroke-width="1"/>
<circle cx="592.11" cy="191.97" r="0.4" fill="#666" stroke="none" stroke-width="1"/>
<text x="597.3" y="170.4" font-size="17.4" fill="#3a2424">3</text>
<circle cx="658.4" cy="177.4" r="25.3" fill="url(#pk)" stroke="#2b1a1b" stroke-width="1.8"/>
<text x="650.1" y="170.4" font-size="17.4" fill="#3a2424">3</text>
<text x="591.9" y="40.5" font-size="20.6" fill="#231f20">WT</text>
<text x="642.05" y="40.6" font-size="20.6" fill="#231f20">KO</text>
<text x="0.6" y="419.3" font-size="35" font-weight="bold" fill="#231f20">C</text>
<text x="120.82" y="414.8" font-size="23.45" fill="#231f20">PC3, Rapamycin</text>
<line x1="63.1" y1="428.5" x2="63.1" y2="701.2" stroke="#231f20" stroke-width="1.25" stroke-linecap="butt"/>
<line x1="63.1" y1="701.2" x2="306.4" y2="701.2" stroke="#231f20" stroke-width="1.25" stroke-linecap="butt"/>
<line x1="57.2" y1="662.2" x2="63.1" y2="662.2" stroke="#231f20" stroke-width="1.25" stroke-linecap="butt"/>
<text x="43.06" y="670.8" font-size="18.5" fill="#231f20">2</text>
<line x1="57.2" y1="584.2" x2="63.1" y2="584.2" stroke="#231f20" stroke-width="1.25" stroke-linecap="butt"/>
<text x="42.69" y="592.8" font-size="18.5" fill="#231f20">4</text>
<line x1="57.2" y1="506.2" x2="63.1" y2="506.2" stroke="#231f20" stroke-width="1.25" stroke-linecap="butt"/>
<text x="42.87" y="514.8" font-size="18.5" fill="#231f20">6</text>
<line x1="57.2" y1="428.2" x2="63.1" y2="428.2" stroke="#231f20" stroke-width="1.25" stroke-linecap="butt"/>
<text x="42.87" y="436.8" font-size="18.5" fill="#231f20">8</text>
<line x1="63.1" y1="701.2" x2="63.1" y2="707.5" stroke="#231f20" stroke-width="1.25" stroke-linecap="butt"/>
<line x1="144.2" y1="701.2" x2="144.2" y2="707.5" stroke="#231f20" stroke-width="1.25" stroke-linecap="butt"/>
<line x1="225.3" y1="701.2" x2="225.3" y2="707.5" stroke="#231f20" stroke-width="1.25" stroke-linecap="butt"/>
<line x1="306.4" y1="701.2" x2="306.4" y2="707.5" stroke="#231f20" stroke-width="1.25" stroke-linecap="butt"/>
<text x="56.52" y="727" font-size="21.5" fill="#231f20">2</text>
<text x="139.07" y="727" font-size="21.5" fill="#231f20">4</text>
<text x="218.93" y="727" font-size="21.5" fill="#231f20">6</text>
<text x="300.73" y="727" font-size="21.5" fill="#231f20">8</text>
<text x="242.63" y="732.8" font-size="19.6" fill="#231f20">Days</text>
<text transform="translate(24.3,653.06) rotate(-90)" font-size="23.2" fill="#231f20">Relative growth rate</text>
<path d="M310.3,518 C285,540 255,565 224,583.6 C200,598 180,611 144,633.5 L63.5,682" fill="none" stroke="#4a4b4d" stroke-width="3.8" stroke-dasharray="8 10.5" stroke-linecap="round"/>
<polyline points="63.1,677.02 144.2,597.07 225.3,574.45 306.4,474.22" fill="none" stroke="#a7a7aa" stroke-width="1.3" stroke-linecap="butt" stroke-linejoin="round" stroke-dasharray="5.5 3.5"/>
<polyline points="63.1,681.7 144.2,627.88 225.3,574.45 306.4,488.65" fill="none" stroke="#8b8b8b" stroke-width="1.3" stroke-linecap="butt" stroke-linejoin="round" stroke-dasharray="5.5 3.5"/>
<polyline points="63.1,690.67 144.2,634.9 225.3,634.9 306.4,580.3" fill="none" stroke="#6b6b6b" stroke-width="1.3" stroke-linecap="butt" stroke-linejoin="round" stroke-dasharray="5.5 3.5"/>
<polyline points="63.1,683.65 144.2,664.54 225.3,639.97 306.4,606.43" fill="none" stroke="#ec6c7c" stroke-width="1.3" stroke-linecap="butt" stroke-linejoin="round" stroke-dasharray="5.5 3.5"/>
<polyline points="63.1,681.7 144.2,654.01 225.3,638.8 306.4,599.8" fill="none" stroke="#e8294b" stroke-width="1.3" stroke-linecap="butt" stroke-linejoin="round" stroke-dasharray="5.5 3.5"/>
<polyline points="63.1,680.92 144.2,682.48 225.3,670.78 306.4,671.17" fill="none" stroke="#c81a30" stroke-width="1.3" stroke-linecap="butt" stroke-linejoin="round" stroke-dasharray="5.5 3.5"/>
<path d="M310.3,628.2 C285,636 255,643 224,650.6 C200,656 180,660 144,666 C130,668 100,674 63.5,681" fill="none" stroke="#e8283c" stroke-width="3.8" stroke-dasharray="8 10.5" stroke-linecap="round"/>
<line x1="306.4" y1="441.6" x2="306.4" y2="535.2" stroke="#8b8b8b" stroke-width="1.2" stroke-linecap="butt"/>
<line x1="301.9" y1="441.6" x2="310.9" y2="441.6" stroke="#8b8b8b" stroke-width="1.2" stroke-linecap="butt"/>
<line x1="301.9" y1="535.2" x2="310.9" y2="535.2" stroke="#8b8b8b" stroke-width="1.2" stroke-linecap="butt"/>
<line x1="301.9" y1="462.4" x2="310.9" y2="462.4" stroke="#a7a7aa" stroke-width="1.2" stroke-linecap="butt"/>
<line x1="225.3" y1="544.6" x2="225.3" y2="603.4" stroke="#8b8b8b" stroke-width="1.2" stroke-linecap="butt"/>
<line x1="220.8" y1="544.6" x2="229.8" y2="544.6" stroke="#8b8b8b" stroke-width="1.2" stroke-linecap="butt"/>
<line x1="220.8" y1="603.4" x2="229.8" y2="603.4" stroke="#8b8b8b" stroke-width="1.2" stroke-linecap="butt"/>
<line x1="220.8" y1="547.5" x2="229.8" y2="547.5" stroke="#a7a7aa" stroke-width="1.2" stroke-linecap="butt"/>
<line x1="144.2" y1="588.4" x2="144.2" y2="605.9" stroke="#a7a7aa" stroke-width="1.2" stroke-linecap="butt"/>
<line x1="139.7" y1="588.4" x2="148.7" y2="588.4" stroke="#a7a7aa" stroke-width="1.2" stroke-linecap="butt"/>
<line x1="139.7" y1="605.9" x2="148.7" y2="605.9" stroke="#a7a7aa" stroke-width="1.2" stroke-linecap="butt"/>
<line x1="144.2" y1="615.9" x2="144.2" y2="634" stroke="#8b8b8b" stroke-width="1.2" stroke-linecap="butt"/>
<line x1="139.7" y1="615.9" x2="148.7" y2="615.9" stroke="#8b8b8b" stroke-width="1.2" stroke-linecap="butt"/>
<line x1="139.7" y1="634" x2="148.7" y2="634" stroke="#8b8b8b" stroke-width="1.2" stroke-linecap="butt"/>
<line x1="306.4" y1="569.9" x2="306.4" y2="590" stroke="#6b6b6b" stroke-width="1.2" stroke-linecap="butt"/>
<line x1="301.9" y1="569.9" x2="310.9" y2="569.9" stroke="#6b6b6b" stroke-width="1.2" stroke-linecap="butt"/>
<line x1="301.9" y1="590" x2="310.9" y2="590" stroke="#6b6b6b" stroke-width="1.2" stroke-linecap="butt"/>
<line x1="225.3" y1="626.5" x2="225.3" y2="644.8" stroke="#6b6b6b" stroke-width="1.2" stroke-linecap="butt"/>
<line x1="220.8" y1="626.5" x2="229.8" y2="626.5" stroke="#6b6b6b" stroke-width="1.2" stroke-linecap="butt"/>
<line x1="220.8" y1="644.8" x2="229.8" y2="644.8" stroke="#6b6b6b" stroke-width="1.2" stroke-linecap="butt"/>
<line x1="306.4" y1="585" x2="306.4" y2="628" stroke="#ec6c7c" stroke-width="1.2" stroke-linecap="butt"/>
<line x1="301.9" y1="585" x2="310.9" y2="585" stroke="#ec6c7c" stroke-width="1.2" stroke-linecap="butt"/>
<line x1="301.9" y1="628" x2="310.9" y2="628" stroke="#ec6c7c" stroke-width="1.2" stroke-linecap="butt"/>
<line x1="301.9" y1="590" x2="310.9" y2="590" stroke="#e8294b" stroke-width="1.2" stroke-linecap="butt"/>
<line x1="225.3" y1="638" x2="225.3" y2="651.5" stroke="#ec6c7c" stroke-width="1.2" stroke-linecap="butt"/>
<line x1="220.8" y1="638" x2="229.8" y2="638" stroke="#ec6c7c" stroke-width="1.2" stroke-linecap="butt"/>
<line x1="220.8" y1="651.5" x2="229.8" y2="651.5" stroke="#ec6c7c" stroke-width="1.2" stroke-linecap="butt"/>
<line x1="144.2" y1="647.1" x2="144.2" y2="661" stroke="#e8294b" stroke-width="1.2" stroke-linecap="butt"/>
<line x1="139.7" y1="647.1" x2="148.7" y2="647.1" stroke="#e8294b" stroke-width="1.2" stroke-linecap="butt"/>
<line x1="139.7" y1="661" x2="148.7" y2="661" stroke="#e8294b" stroke-width="1.2" stroke-linecap="butt"/>
<line x1="144.2" y1="675.1" x2="144.2" y2="690.4" stroke="#c81a30" stroke-width="1.2" stroke-linecap="butt"/>
<line x1="139.7" y1="675.1" x2="148.7" y2="675.1" stroke="#c81a30" stroke-width="1.2" stroke-linecap="butt"/>
<line x1="139.7" y1="690.4" x2="148.7" y2="690.4" stroke="#c81a30" stroke-width="1.2" stroke-linecap="butt"/>
<line x1="306.4" y1="666.7" x2="306.4" y2="676.6" stroke="#c81a30" stroke-width="1.2" stroke-linecap="butt"/>
<line x1="301.9" y1="666.7" x2="310.9" y2="666.7" stroke="#c81a30" stroke-width="1.2" stroke-linecap="butt"/>
<line x1="301.9" y1="676.6" x2="310.9" y2="676.6" stroke="#c81a30" stroke-width="1.2" stroke-linecap="butt"/>
<line x1="63.1" y1="655.3" x2="63.1" y2="690" stroke="#c81a30" stroke-width="1.2" stroke-linecap="butt"/>
<line x1="58.6" y1="655.3" x2="67.6" y2="655.3" stroke="#c81a30" stroke-width="1.2" stroke-linecap="butt"/>
<line x1="58.6" y1="690" x2="67.6" y2="690" stroke="#c81a30" stroke-width="1.2" stroke-linecap="butt"/>
<line x1="58.6" y1="668.1" x2="67.6" y2="668.1" stroke="#a7a7aa" stroke-width="1.2" stroke-linecap="butt"/>
<line x1="58.6" y1="675" x2="67.6" y2="675" stroke="#8b8b8b" stroke-width="1.2" stroke-linecap="butt"/>
<polygon points="63.1,675.97 68.05,680.92 63.1,685.87 58.15,680.92" fill="#c81a30"/>
<polygon points="144.2,677.53 149.15,682.48 144.2,687.43 139.25,682.48" fill="#c81a30"/>
<polygon points="225.3,666.38 229.7,670.78 225.3,675.18 220.9,670.78" fill="#c81a30"/>
<polygon points="306.4,666.22 311.35,671.17 306.4,676.12 301.45,671.17" fill="#c81a30"/>
<rect x="58.6" y="679.15" width="9" height="9" fill="#ec6c7c" stroke="none" stroke-width="1"/>
<rect x="139.7" y="660.04" width="9" height="9" fill="#ec6c7c" stroke="none" stroke-width="1"/>
<rect x="220.8" y="635.47" width="9" height="9" fill="#ec6c7c" stroke="none" stroke-width="1"/>
<rect x="301.9" y="601.93" width="9" height="9" fill="#ec6c7c" stroke="none" stroke-width="1"/>
<circle cx="63.1" cy="681.7" r="5" fill="#e8294b" stroke="none" stroke-width="1"/>
<circle cx="144.2" cy="654.01" r="5" fill="#e8294b" stroke="none" stroke-width="1"/>
<circle cx="225.3" cy="638.8" r="5" fill="#e8294b" stroke="none" stroke-width="1"/>
<circle cx="306.4" cy="599.8" r="5" fill="#e8294b" stroke="none" stroke-width="1"/>
<rect x="58.6" y="686.17" width="9" height="9" fill="#6b6b6b" stroke="none" stroke-width="1"/>
<rect x="139.7" y="630.4" width="9" height="9" fill="#6b6b6b" stroke="none" stroke-width="1"/>
<rect x="220.8" y="630.4" width="9" height="9" fill="#6b6b6b" stroke="none" stroke-width="1"/>
<rect x="301.9" y="575.8" width="9" height="9" fill="#6b6b6b" stroke="none" stroke-width="1"/>
<polygon points="63.1,676.84 67.6,684.94 58.6,684.94" fill="#8b8b8b"/>
<polygon points="144.2,623.02 148.7,631.12 139.7,631.12" fill="#8b8b8b"/>
<polygon points="225.3,569.59 229.8,577.69 220.8,577.69" fill="#8b8b8b"/>
<polygon points="306.4,483.79 310.9,491.89 301.9,491.89" fill="#8b8b8b"/>
<polygon points="63.1,681.88 67.6,673.78 58.6,673.78" fill="#a7a7aa"/>
<polygon points="144.2,601.93 148.7,593.83 139.7,593.83" fill="#a7a7aa"/>
<polygon points="225.3,579.31 229.8,571.21 220.8,571.21" fill="#a7a7aa"/>
<polygon points="306.4,479.08 310.9,470.98 301.9,470.98" fill="#a7a7aa"/>
<text x="317.69" y="610" font-size="21" fill="#231f20" letter-spacing="1.5">****</text>
<text x="317.69" y="622.9" font-size="21" fill="#231f20" letter-spacing="1.5">***</text>
<text x="320.69" y="684.2" font-size="21" fill="#231f20" letter-spacing="1.5">****</text>
<line x1="63.1" y1="448.8" x2="69.9" y2="448.8" stroke="#6b6b6b" stroke-width="1.4" stroke-linecap="butt"/>
<line x1="85.1" y1="448.8" x2="90.4" y2="448.8" stroke="#6b6b6b" stroke-width="1.4" stroke-linecap="butt"/>
<rect x="72.8" y="444.3" width="9" height="9" fill="#6b6b6b" stroke="none" stroke-width="1"/>
<text x="92.6" y="453.2" font-size="20.3" fill="#231f20">WT1</text>
<line x1="63.1" y1="471.62" x2="69.9" y2="471.62" stroke="#8b8b8b" stroke-width="1.4" stroke-linecap="butt"/>
<line x1="85.1" y1="471.62" x2="90.4" y2="471.62" stroke="#8b8b8b" stroke-width="1.4" stroke-linecap="butt"/>
<polygon points="77.3,466.76 81.8,474.86 72.8,474.86" fill="#8b8b8b"/>
<text x="92.6" y="476.02" font-size="20.3" fill="#231f20">WT2</text>
<line x1="63.1" y1="494.44" x2="69.9" y2="494.44" stroke="#a7a7aa" stroke-width="1.4" stroke-linecap="butt"/>
<line x1="85.1" y1="494.44" x2="90.4" y2="494.44" stroke="#a7a7aa" stroke-width="1.4" stroke-linecap="butt"/>
<polygon points="77.3,499.3 81.8,491.2 72.8,491.2" fill="#a7a7aa"/>
<text x="92.6" y="498.84" font-size="20.3" fill="#231f20">WT3</text>
<line x1="63.1" y1="517.26" x2="69.9" y2="517.26" stroke="#c81a30" stroke-width="1.4" stroke-linecap="butt"/>
<line x1="85.1" y1="517.26" x2="90.4" y2="517.26" stroke="#c81a30" stroke-width="1.4" stroke-linecap="butt"/>
<polygon points="77.3,512.31 82.25,517.26 77.3,522.21 72.35,517.26" fill="#c81a30"/>
<text x="91.08" y="521.66" font-size="20.3" fill="#231f20">KO1</text>
<line x1="63.1" y1="540.08" x2="69.9" y2="540.08" stroke="#e8294b" stroke-width="1.4" stroke-linecap="butt"/>
<line x1="85.1" y1="540.08" x2="90.4" y2="540.08" stroke="#e8294b" stroke-width="1.4" stroke-linecap="butt"/>
<circle cx="77.3" cy="540.08" r="5" fill="#e8294b" stroke="none" stroke-width="1"/>
<text x="91.08" y="544.48" font-size="20.3" fill="#231f20">KO2</text>
<line x1="63.1" y1="562.9" x2="69.9" y2="562.9" stroke="#ec6c7c" stroke-width="1.4" stroke-linecap="butt"/>
<line x1="85.1" y1="562.9" x2="90.4" y2="562.9" stroke="#ec6c7c" stroke-width="1.4" stroke-linecap="butt"/>
<rect x="72.8" y="558.4" width="9" height="9" fill="#ec6c7c" stroke="none" stroke-width="1"/>
<text x="91.08" y="567.3" font-size="20.3" fill="#231f20">KO3</text>
<line x1="144.4" y1="444.6" x2="169.2" y2="444.6" stroke="#6b6b6b" stroke-width="1.4" stroke-linecap="butt" stroke-dasharray="9.5 5.5"/>
<text x="177.3" y="452.2" font-size="20.8" fill="#231f20">WT trend</text>
<line x1="144.4" y1="466.8" x2="169.2" y2="466.8" stroke="#e8283c" stroke-width="1.4" stroke-linecap="butt" stroke-dasharray="9.5 5.5"/>
<text x="175.74" y="473.4" font-size="20.8" fill="#231f20">KO trend</text>
<text x="356.56" y="419.5" font-size="37.5" font-weight="bold" fill="#231f20">D</text>
<text x="427.92" y="414.7" font-size="23.45" fill="#231f20">PC3, Rapamycin</text>
<line x1="466.5" y1="449.2" x2="466.5" y2="705.1" stroke="#231f20" stroke-width="1.25" stroke-linecap="butt"/>
<line x1="466.5" y1="705.1" x2="578.1" y2="705.1" stroke="#231f20" stroke-width="1.25" stroke-linecap="butt"/>
<line x1="459" y1="705.1" x2="466.5" y2="705.1" stroke="#231f20" stroke-width="1.25" stroke-linecap="butt"/>
<text x="429.74" y="710.3" font-size="18.2" fill="#231f20">0.0</text>
<line x1="459" y1="674.92" x2="466.5" y2="674.92" stroke="#231f20" stroke-width="1.25" stroke-linecap="butt"/>
<text x="430.01" y="680.12" font-size="18.2" fill="#231f20">0.2</text>
<line x1="459" y1="644.74" x2="466.5" y2="644.74" stroke="#231f20" stroke-width="1.25" stroke-linecap="butt"/>
<text x="429.65" y="649.94" font-size="18.2" fill="#231f20">0.4</text>
<line x1="459" y1="614.56" x2="466.5" y2="614.56" stroke="#231f20" stroke-width="1.25" stroke-linecap="butt"/>
<text x="429.83" y="619.76" font-size="18.2" fill="#231f20">0.6</text>
<line x1="459" y1="584.38" x2="466.5" y2="584.38" stroke="#231f20" stroke-width="1.25" stroke-linecap="butt"/>
<text x="429.83" y="589.58" font-size="18.2" fill="#231f20">0.8</text>
<line x1="459" y1="554.2" x2="466.5" y2="554.2" stroke="#231f20" stroke-width="1.25" stroke-linecap="butt"/>
<text x="429.74" y="559.4" font-size="18.2" fill="#231f20">1.0</text>
<line x1="459" y1="524.02" x2="466.5" y2="524.02" stroke="#231f20" stroke-width="1.25" stroke-linecap="butt"/>
<text x="430.01" y="529.22" font-size="18.2" fill="#231f20">1.2</text>
<line x1="459" y1="493.84" x2="466.5" y2="493.84" stroke="#231f20" stroke-width="1.25" stroke-linecap="butt"/>
<text x="429.65" y="499.04" font-size="18.2" fill="#231f20">1.4</text>
<line x1="459" y1="463.66" x2="466.5" y2="463.66" stroke="#231f20" stroke-width="1.25" stroke-linecap="butt"/>
<text x="429.83" y="468.86" font-size="18.2" fill="#231f20">1.6</text>
<line x1="488.5" y1="705.1" x2="488.5" y2="711.8" stroke="#231f20" stroke-width="1.25" stroke-linecap="butt"/>
<line x1="522" y1="705.1" x2="522" y2="711.8" stroke="#231f20" stroke-width="1.25" stroke-linecap="butt"/>
<line x1="556.2" y1="705.1" x2="556.2" y2="711.8" stroke="#231f20" stroke-width="1.25" stroke-linecap="butt"/>
<text transform="translate(415.6,676.56) rotate(-90)" font-size="23.2" fill="#231f20">Relative growth rate</text>
<line x1="490.2" y1="439.7" x2="490.2" y2="591.5" stroke="#231f20" stroke-width="1.25" stroke-linecap="butt"/>
<line x1="490.2" y1="439.7" x2="526.9" y2="439.7" stroke="#231f20" stroke-width="1.25" stroke-linecap="butt"/>
<line x1="530" y1="440.4" x2="560.8" y2="440.4" stroke="#231f20" stroke-width="1.25" stroke-linecap="butt"/>
<line x1="560.8" y1="440.4" x2="560.8" y2="549.7" stroke="#231f20" stroke-width="1.25" stroke-linecap="butt"/>
<text x="501.55" y="439.9" font-size="23" fill="#231f20">*</text>
<text x="542.45" y="442.7" font-size="23" fill="#231f20">*</text>
<line x1="492.6" y1="600.6" x2="492.6" y2="623.4" stroke="#1f1c1d" stroke-width="1.3" stroke-linecap="butt"/>
<line x1="486.3" y1="623.4" x2="498.9" y2="623.4" stroke="#1f1c1d" stroke-width="1.3" stroke-linecap="butt"/>
<line x1="481.4" y1="612" x2="503.8" y2="612" stroke="#1f1c1d" stroke-width="1.4" stroke-linecap="butt"/>
<circle cx="489" cy="605.3" r="5.2" fill="#1f1c1d" stroke="none" stroke-width="1"/>
<circle cx="496.4" cy="603.8" r="5.2" fill="#1f1c1d" stroke="none" stroke-width="1"/>
<circle cx="492.8" cy="608.2" r="5.2" fill="#1f1c1d" stroke="none" stroke-width="1"/>
<circle cx="492.6" cy="628.9" r="5.2" fill="#1f1c1d" stroke="none" stroke-width="1"/>
<line x1="526.4" y1="461.4" x2="526.4" y2="562.3" stroke="#2262b0" stroke-width="1.4" stroke-linecap="butt"/>
<line x1="520.55" y1="461.4" x2="532.25" y2="461.4" stroke="#2262b0" stroke-width="1.4" stroke-linecap="butt"/>
<line x1="520.55" y1="562.3" x2="532.25" y2="562.3" stroke="#2262b0" stroke-width="1.4" stroke-linecap="butt"/>
<rect x="521.15" y="446.75" width="10.5" height="10.5" fill="#2262b0" stroke="none" stroke-width="1"/>
<rect x="515.55" y="502.35" width="10.5" height="10.5" fill="#2262b0" stroke="none" stroke-width="1"/>
<rect x="526.55" y="507.55" width="10.5" height="10.5" fill="#2262b0" stroke="none" stroke-width="1"/>
<rect x="521.15" y="570.15" width="10.5" height="10.5" fill="#2262b0" stroke="none" stroke-width="1"/>
<line x1="559.6" y1="568.2" x2="559.6" y2="604.7" stroke="#5b9bd5" stroke-width="1.4" stroke-linecap="butt"/>
<line x1="553.8" y1="568.2" x2="565.4" y2="568.2" stroke="#5b9bd5" stroke-width="1.4" stroke-linecap="butt"/>
<line x1="548.5" y1="586.1" x2="570.7" y2="586.1" stroke="#5b9bd5" stroke-width="1.4" stroke-linecap="butt"/>
<line x1="553.8" y1="604.7" x2="565.4" y2="604.7" stroke="#5b9bd5" stroke-width="1.4" stroke-linecap="butt"/>
<polygon points="557.7,575.42 563.7,586.22 551.7,586.22" fill="#5b9bd5"/>
<polygon points="564.1,566.62 570.1,577.42 558.1,577.42" fill="#5b9bd5"/>
<polygon points="560,607.52 566,618.32 554,618.32" fill="#5b9bd5"/>
<text text-anchor="end" transform="translate(499.6,725.3) rotate(-45)" font-size="21" fill="#231f20">EV</text>
<text text-anchor="end" transform="translate(533.2,729.8) rotate(-45)" font-size="21" fill="#231f20">WT</text>
<text text-anchor="end" transform="translate(568.5,718.3) rotate(-45)" font-size="21" fill="#231f20">AFPA</text>
<line x1="475.3" y1="758.5" x2="560" y2="758.5" stroke="#3d2d2d" stroke-width="1.4" stroke-linecap="butt"/>
<text x="496.08" y="779" font-size="21.5" fill="#231f20">KO</text>
<text x="0.56" y="828.4" font-size="37.5" font-weight="bold" fill="#231f20">E</text>
<text x="134.6" y="823.4" font-size="23.8" fill="#231f20">PC3, 3MA</text>
<line x1="64.2" y1="845.5" x2="64.2" y2="1123.3" stroke="#3b3b3b" stroke-width="1.25" stroke-linecap="butt"/>
<line x1="57.1" y1="1123.3" x2="310.7" y2="1123.3" stroke="#3b3b3b" stroke-width="1.25" stroke-linecap="butt"/>
<line x1="57.1" y1="1123.3" x2="64.2" y2="1123.3" stroke="#3b3b3b" stroke-width="1.25" stroke-linecap="butt"/>
<text x="28.23" y="1127.8" font-size="18.5" fill="#231f20">0.0</text>
<line x1="57.1" y1="1083.61" x2="64.2" y2="1083.61" stroke="#3b3b3b" stroke-width="1.25" stroke-linecap="butt"/>
<text x="28.42" y="1088.11" font-size="18.5" fill="#231f20">0.1</text>
<line x1="57.1" y1="1043.92" x2="64.2" y2="1043.92" stroke="#3b3b3b" stroke-width="1.25" stroke-linecap="butt"/>
<text x="28.51" y="1048.42" font-size="18.5" fill="#231f20">0.2</text>
<line x1="57.1" y1="1004.23" x2="64.2" y2="1004.23" stroke="#3b3b3b" stroke-width="1.25" stroke-linecap="butt"/>
<text x="28.32" y="1008.73" font-size="18.5" fill="#231f20">0.3</text>
<line x1="57.1" y1="964.54" x2="64.2" y2="964.54" stroke="#3b3b3b" stroke-width="1.25" stroke-linecap="butt"/>
<text x="28.14" y="969.04" font-size="18.5" fill="#231f20">0.4</text>
<line x1="57.1" y1="924.85" x2="64.2" y2="924.85" stroke="#3b3b3b" stroke-width="1.25" stroke-linecap="butt"/>
<text x="28.32" y="929.35" font-size="18.5" fill="#231f20">0.5</text>
<line x1="57.1" y1="885.16" x2="64.2" y2="885.16" stroke="#3b3b3b" stroke-width="1.25" stroke-linecap="butt"/>
<text x="28.32" y="889.66" font-size="18.5" fill="#231f20">0.6</text>
<line x1="57.1" y1="845.47" x2="64.2" y2="845.47" stroke="#3b3b3b" stroke-width="1.25" stroke-linecap="butt"/>
<text x="28.51" y="849.97" font-size="18.5" fill="#231f20">0.7</text>
<line x1="82.6" y1="1123.3" x2="82.6" y2="1129" stroke="#3b3b3b" stroke-width="1.25" stroke-linecap="butt"/>
<line x1="191.55" y1="1123.3" x2="191.55" y2="1129" stroke="#3b3b3b" stroke-width="1.25" stroke-linecap="butt"/>
<line x1="300.5" y1="1123.3" x2="300.5" y2="1129" stroke="#3b3b3b" stroke-width="1.25" stroke-linecap="butt"/>
<text x="74.64" y="1147.3" font-size="21.3" fill="#231f20">24</text>
<text x="184.87" y="1147.3" font-size="21.3" fill="#231f20">48</text>
<text x="293.63" y="1147.3" font-size="21.3" fill="#231f20">72</text>
<text x="234.74" y="1152.6" font-size="20.8" fill="#231f20">Hours</text>
<text transform="translate(23.4,1087.66) rotate(-90)" font-size="23.2" fill="#231f20">Relative growth rate</text>
<path d="M72.3,929 C73.5,985 79,1003.6 100,1003.9 L312,1003.9" fill="none" stroke="#555" stroke-width="3.8" stroke-dasharray="8 10.5" stroke-linecap="round"/>
<polyline points="82.6,908.97 191.55,1010.58 300.5,1004.23" fill="none" stroke="#6b6b6b" stroke-width="1.3" stroke-linecap="butt" stroke-linejoin="round" stroke-dasharray="5.5 3.5"/>
<polyline points="82.6,936.76 191.55,992.32 300.5,987.16" fill="none" stroke="#8b8b8b" stroke-width="1.3" stroke-linecap="butt" stroke-linejoin="round" stroke-dasharray="5.5 3.5"/>
<polyline points="82.6,946.68 191.55,1010.18 300.5,1014.15" fill="none" stroke="#a7a7aa" stroke-width="1.3" stroke-linecap="butt" stroke-linejoin="round" stroke-dasharray="5.5 3.5"/>
<polyline points="82.6,946.68 191.55,918.1 300.5,934.77" fill="none" stroke="#ec6c7c" stroke-width="1.3" stroke-linecap="butt" stroke-linejoin="round" stroke-dasharray="5.5 3.5"/>
<polyline points="82.6,940.73 191.55,930.8 300.5,976.45" fill="none" stroke="#c81a30" stroke-width="1.3" stroke-linecap="butt" stroke-linejoin="round" stroke-dasharray="5.5 3.5"/>
<polyline points="82.6,890.72 191.55,905 300.5,931.99" fill="none" stroke="#e8294b" stroke-width="1.3" stroke-linecap="butt" stroke-linejoin="round" stroke-dasharray="5.5 3.5"/>
<path d="M311,945 L303,934 C297,927 285,922 270,922 L70,922" fill="none" stroke="#e8283c" stroke-width="3.8" stroke-dasharray="8 10.5" stroke-dashoffset="7.5" stroke-linecap="round"/>
<line x1="82.6" y1="882.7" x2="82.6" y2="898" stroke="#e8294b" stroke-width="1.2" stroke-linecap="butt"/>
<line x1="78.1" y1="882.7" x2="87.1" y2="882.7" stroke="#e8294b" stroke-width="1.2" stroke-linecap="butt"/>
<line x1="78.1" y1="898" x2="87.1" y2="898" stroke="#e8294b" stroke-width="1.2" stroke-linecap="butt"/>
<line x1="82.6" y1="902" x2="82.6" y2="975.3" stroke="#6b6b6b" stroke-width="1.2" stroke-linecap="butt"/>
<line x1="78.1" y1="902" x2="87.1" y2="902" stroke="#6b6b6b" stroke-width="1.2" stroke-linecap="butt"/>
<line x1="78.1" y1="975.3" x2="87.1" y2="975.3" stroke="#6b6b6b" stroke-width="1.2" stroke-linecap="butt"/>
<line x1="78.1" y1="928" x2="87.1" y2="928" stroke="#ec6c7c" stroke-width="1.2" stroke-linecap="butt"/>
<line x1="78.1" y1="952" x2="87.1" y2="952" stroke="#ec6c7c" stroke-width="1.2" stroke-linecap="butt"/>
<line x1="78.1" y1="958" x2="87.1" y2="958" stroke="#ec6c7c" stroke-width="1.2" stroke-linecap="butt"/>
<line x1="78.1" y1="965" x2="87.1" y2="965" stroke="#ec6c7c" stroke-width="1.2" stroke-linecap="butt"/>
<line x1="78.1" y1="931" x2="87.1" y2="931" stroke="#a7a7aa" stroke-width="1.2" stroke-linecap="butt"/>
<line x1="78.1" y1="949" x2="87.1" y2="949" stroke="#a7a7aa" stroke-width="1.2" stroke-linecap="butt"/>
<line x1="191.55" y1="913" x2="191.55" y2="948.7" stroke="#c81a30" stroke-width="1.2" stroke-linecap="butt"/>
<line x1="187.05" y1="913" x2="196.05" y2="913" stroke="#c81a30" stroke-width="1.2" stroke-linecap="butt"/>
<line x1="187.05" y1="948.7" x2="196.05" y2="948.7" stroke="#c81a30" stroke-width="1.2" stroke-linecap="butt"/>
<line x1="187.05" y1="916" x2="196.05" y2="916" stroke="#ec6c7c" stroke-width="1.2" stroke-linecap="butt"/>
<line x1="191.55" y1="966.4" x2="191.55" y2="1045" stroke="#a7a7aa" stroke-width="1.2" stroke-linecap="butt"/>
<line x1="187.05" y1="966.4" x2="196.05" y2="966.4" stroke="#a7a7aa" stroke-width="1.2" stroke-linecap="butt"/>
<line x1="187.05" y1="1045" x2="196.05" y2="1045" stroke="#a7a7aa" stroke-width="1.2" stroke-linecap="butt"/>
<line x1="187.05" y1="975" x2="196.05" y2="975" stroke="#8b8b8b" stroke-width="1.2" stroke-linecap="butt"/>
<line x1="187.05" y1="1020" x2="196.05" y2="1020" stroke="#6b6b6b" stroke-width="1.2" stroke-linecap="butt"/>
<line x1="187.05" y1="1025.5" x2="196.05" y2="1025.5" stroke="#8b8b8b" stroke-width="1.2" stroke-linecap="butt"/>
<line x1="300.5" y1="910.5" x2="300.5" y2="938" stroke="#e8294b" stroke-width="1.2" stroke-linecap="butt"/>
<line x1="296" y1="910.5" x2="305" y2="910.5" stroke="#e8294b" stroke-width="1.2" stroke-linecap="butt"/>
<line x1="296" y1="938" x2="305" y2="938" stroke="#e8294b" stroke-width="1.2" stroke-linecap="butt"/>
<line x1="296" y1="951.7" x2="305" y2="951.7" stroke="#c81a30" stroke-width="1.2" stroke-linecap="butt"/>
<line x1="296" y1="953.7" x2="305" y2="953.7" stroke="#e8294b" stroke-width="1.2" stroke-linecap="butt"/>
<line x1="300.5" y1="937.8" x2="300.5" y2="1083" stroke="#6b6b6b" stroke-width="1.2" stroke-linecap="butt"/>
<line x1="296" y1="937.8" x2="305" y2="937.8" stroke="#6b6b6b" stroke-width="1.2" stroke-linecap="butt"/>
<line x1="296" y1="1083" x2="305" y2="1083" stroke="#6b6b6b" stroke-width="1.2" stroke-linecap="butt"/>
<line x1="296" y1="946.7" x2="305" y2="946.7" stroke="#a7a7aa" stroke-width="1.2" stroke-linecap="butt"/>
<line x1="296" y1="1036.3" x2="305" y2="1036.3" stroke="#6b6b6b" stroke-width="1.2" stroke-linecap="butt"/>
<line x1="296" y1="1070.7" x2="305" y2="1070.7" stroke="#6b6b6b" stroke-width="1.2" stroke-linecap="butt"/>
<rect x="78.1" y="942.18" width="9" height="9" fill="#ec6c7c" stroke="none" stroke-width="1"/>
<rect x="187.05" y="913.6" width="9" height="9" fill="#ec6c7c" stroke="none" stroke-width="1"/>
<rect x="296" y="930.27" width="9" height="9" fill="#ec6c7c" stroke="none" stroke-width="1"/>
<polygon points="82.6,936.33 87,940.73 82.6,945.13 78.2,940.73" fill="#c81a30"/>
<polygon points="191.55,926.4 195.95,930.8 191.55,935.2 187.15,930.8" fill="#c81a30"/>
<polygon points="300.5,972.05 304.9,976.45 300.5,980.85 296.1,976.45" fill="#c81a30"/>
<circle cx="82.6" cy="890.72" r="5" fill="#e8294b" stroke="none" stroke-width="1"/>
<circle cx="191.55" cy="905" r="5" fill="#e8294b" stroke="none" stroke-width="1"/>
<circle cx="300.5" cy="931.99" r="5" fill="#e8294b" stroke="none" stroke-width="1"/>
<polygon points="82.6,951.54 87.1,943.44 78.1,943.44" fill="#a7a7aa"/>
<polygon points="191.55,1015.04 196.05,1006.94 187.05,1006.94" fill="#a7a7aa"/>
<polygon points="300.5,1019.01 305,1010.91 296,1010.91" fill="#a7a7aa"/>
<polygon points="82.6,931.9 87.1,940 78.1,940" fill="#8b8b8b"/>
<polygon points="191.55,987.46 196.05,995.56 187.05,995.56" fill="#8b8b8b"/>
<polygon points="300.5,982.3 305,990.4 296,990.4" fill="#8b8b8b"/>
<rect x="78.1" y="904.47" width="9" height="9" fill="#6b6b6b" stroke="none" stroke-width="1"/>
<rect x="187.05" y="1006.08" width="9" height="9" fill="#6b6b6b" stroke="none" stroke-width="1"/>
<rect x="296" y="999.73" width="9" height="9" fill="#6b6b6b" stroke="none" stroke-width="1"/>
<polygon points="191.55,932.36 196.05,924.26 187.05,924.26" fill="#a7a7aa"/>
<polygon points="191.55,1040.14 196.05,1048.24 187.05,1048.24" fill="#a7a7aa"/>
<line x1="69.6" y1="1039.4" x2="75.1" y2="1039.4" stroke="#6b6b6b" stroke-width="1.4" stroke-linecap="butt"/>
<line x1="90.1" y1="1039.4" x2="95.6" y2="1039.4" stroke="#6b6b6b" stroke-width="1.4" stroke-linecap="butt"/>
<rect x="78.1" y="1034.9" width="9" height="9" fill="#6b6b6b" stroke="none" stroke-width="1"/>
<text x="98.7" y="1044" font-size="20.3" fill="#231f20">WT1</text>
<line x1="69.6" y1="1061.7" x2="75.1" y2="1061.7" stroke="#8b8b8b" stroke-width="1.4" stroke-linecap="butt"/>
<line x1="90.1" y1="1061.7" x2="95.6" y2="1061.7" stroke="#8b8b8b" stroke-width="1.4" stroke-linecap="butt"/>
<polygon points="82.6,1056.84 87.1,1064.94 78.1,1064.94" fill="#8b8b8b"/>
<text x="98.7" y="1066.3" font-size="20.3" fill="#231f20">WT2</text>
<line x1="69.6" y1="1084" x2="75.1" y2="1084" stroke="#a7a7aa" stroke-width="1.4" stroke-linecap="butt"/>
<line x1="90.1" y1="1084" x2="95.6" y2="1084" stroke="#a7a7aa" stroke-width="1.4" stroke-linecap="butt"/>
<polygon points="82.6,1088.86 87.1,1080.76 78.1,1080.76" fill="#a7a7aa"/>
<text x="98.7" y="1088.6" font-size="20.3" fill="#231f20">WT3</text>
<line x1="72.1" y1="1107.6" x2="77.6" y2="1107.6" stroke="#c81a30" stroke-width="1.4" stroke-linecap="butt"/>
<line x1="92.6" y1="1107.6" x2="98.1" y2="1107.6" stroke="#c81a30" stroke-width="1.4" stroke-linecap="butt"/>
<polygon points="85.1,1102.65 90.05,1107.6 85.1,1112.55 80.15,1107.6" fill="#c81a30"/>
<text x="98.88" y="1112.2" font-size="20.3" fill="#231f20">KO1</text>
<line x1="145.1" y1="1058.8" x2="150.6" y2="1058.8" stroke="#e8294b" stroke-width="1.4" stroke-linecap="butt"/>
<line x1="165.6" y1="1058.8" x2="171.1" y2="1058.8" stroke="#e8294b" stroke-width="1.4" stroke-linecap="butt"/>
<circle cx="158.1" cy="1058.8" r="5" fill="#e8294b" stroke="none" stroke-width="1"/>
<text x="171.98" y="1063.4" font-size="20.3" fill="#231f20">KO2</text>
<line x1="145.1" y1="1081.9" x2="150.6" y2="1081.9" stroke="#ec6c7c" stroke-width="1.4" stroke-linecap="butt"/>
<line x1="165.6" y1="1081.9" x2="171.1" y2="1081.9" stroke="#ec6c7c" stroke-width="1.4" stroke-linecap="butt"/>
<rect x="153.6" y="1077.4" width="9" height="9" fill="#ec6c7c" stroke="none" stroke-width="1"/>
<text x="170.38" y="1086.5" font-size="20.3" fill="#231f20">KO3</text>
<line x1="176.5" y1="1091.5" x2="202.8" y2="1091.5" stroke="#6b6b6b" stroke-width="1.4" stroke-linecap="butt" stroke-dasharray="9.5 7"/>
<text x="209.9" y="1099.3" font-size="20.6" fill="#231f20">WT trend</text>
<line x1="176.5" y1="1113.4" x2="202.8" y2="1113.4" stroke="#e8283c" stroke-width="1.4" stroke-linecap="butt" stroke-dasharray="9.5 7"/>
<text x="207.55" y="1121" font-size="20.6" fill="#231f20">KO trend</text>
<text x="356.63" y="827.8" font-size="36.5" font-weight="bold" fill="#231f20">F</text>
<text x="452.3" y="823.5" font-size="23.8" fill="#231f20">PC3, 3MA</text>
<line x1="462.2" y1="861.2" x2="462.2" y2="1123.6" stroke="#231f20" stroke-width="1.25" stroke-linecap="butt"/>
<line x1="462.2" y1="1123.6" x2="570.8" y2="1123.6" stroke="#231f20" stroke-width="1.25" stroke-linecap="butt"/>
<line x1="454.7" y1="1123.5" x2="462.2" y2="1123.5" stroke="#231f20" stroke-width="1.25" stroke-linecap="butt"/>
<text x="413.47" y="1128.5" font-size="18.5" fill="#231f20">0.30</text>
<line x1="454.7" y1="1071.04" x2="462.2" y2="1071.04" stroke="#231f20" stroke-width="1.25" stroke-linecap="butt"/>
<text x="413.56" y="1076.04" font-size="18.5" fill="#231f20">0.35</text>
<line x1="454.7" y1="1018.58" x2="462.2" y2="1018.58" stroke="#231f20" stroke-width="1.25" stroke-linecap="butt"/>
<text x="413.47" y="1023.58" font-size="18.5" fill="#231f20">0.40</text>
<line x1="454.7" y1="966.12" x2="462.2" y2="966.12" stroke="#231f20" stroke-width="1.25" stroke-linecap="butt"/>
<text x="413.56" y="971.12" font-size="18.5" fill="#231f20">0.45</text>
<line x1="454.7" y1="913.66" x2="462.2" y2="913.66" stroke="#231f20" stroke-width="1.25" stroke-linecap="butt"/>
<text x="413.47" y="918.66" font-size="18.5" fill="#231f20">0.50</text>
<line x1="454.7" y1="861.2" x2="462.2" y2="861.2" stroke="#231f20" stroke-width="1.25" stroke-linecap="butt"/>
<text x="413.56" y="866.2" font-size="18.5" fill="#231f20">0.55</text>
<line x1="484.1" y1="1123.6" x2="484.1" y2="1129.3" stroke="#231f20" stroke-width="1.25" stroke-linecap="butt"/>
<line x1="516.8" y1="1123.6" x2="516.8" y2="1129.3" stroke="#231f20" stroke-width="1.25" stroke-linecap="butt"/>
<line x1="549.8" y1="1123.6" x2="549.8" y2="1129.3" stroke="#231f20" stroke-width="1.25" stroke-linecap="butt"/>
<text transform="translate(404,1089.16) rotate(-90)" font-size="23.2" fill="#231f20">Relative growth rate</text>
<line x1="483.1" y1="844.2" x2="547.3" y2="844.2" stroke="#231f20" stroke-width="1.25" stroke-linecap="butt"/>
<line x1="547.3" y1="844.2" x2="547.3" y2="946" stroke="#231f20" stroke-width="1.25" stroke-linecap="butt"/>
<line x1="479.2" y1="875.4" x2="516.6" y2="875.4" stroke="#231f20" stroke-width="1.25" stroke-linecap="butt"/>
<line x1="516.6" y1="875.4" x2="516.6" y2="962" stroke="#231f20" stroke-width="1.25" stroke-linecap="butt"/>
<text x="514.95" y="844.7" font-size="23" fill="#231f20">*</text>
<text x="485.65" y="872.7" font-size="23" fill="#231f20" letter-spacing="1.2">**</text>
<line x1="484" y1="893.5" x2="484" y2="943.2" stroke="#1f1c1d" stroke-width="1.3" stroke-linecap="butt"/>
<line x1="478.05" y1="893.5" x2="489.95" y2="893.5" stroke="#1f1c1d" stroke-width="1.3" stroke-linecap="butt"/>
<line x1="478.05" y1="943.2" x2="489.95" y2="943.2" stroke="#1f1c1d" stroke-width="1.3" stroke-linecap="butt"/>
<line x1="473.05" y1="918.5" x2="494.95" y2="918.5" stroke="#1f1c1d" stroke-width="1.4" stroke-linecap="butt"/>
<circle cx="484" cy="889.1" r="5.8" fill="#1f1c1d" stroke="none" stroke-width="1"/>
<circle cx="478.5" cy="932.9" r="5.8" fill="#1f1c1d" stroke="none" stroke-width="1"/>
<circle cx="492.3" cy="932" r="5.8" fill="#1f1c1d" stroke="none" stroke-width="1"/>
<line x1="516.8" y1="970" x2="516.8" y2="1061.6" stroke="#2262b0" stroke-width="1.4" stroke-linecap="butt"/>
<line x1="511.25" y1="1061.6" x2="522.35" y2="1061.6" stroke="#2262b0" stroke-width="1.4" stroke-linecap="butt"/>
<line x1="505.85" y1="1021.9" x2="527.75" y2="1021.9" stroke="#2262b0" stroke-width="1.4" stroke-linecap="butt"/>
<rect x="511.55" y="971.25" width="10.5" height="10.5" fill="#2262b0" stroke="none" stroke-width="1"/>
<rect x="511.55" y="1028.65" width="10.5" height="10.5" fill="#2262b0" stroke="none" stroke-width="1"/>
<rect x="511.55" y="1049.65" width="10.5" height="10.5" fill="#2262b0" stroke="none" stroke-width="1"/>
<line x1="549.6" y1="950.6" x2="549.6" y2="1003.2" stroke="#5b9bd5" stroke-width="1.4" stroke-linecap="butt"/>
<line x1="543.55" y1="950.6" x2="555.65" y2="950.6" stroke="#5b9bd5" stroke-width="1.4" stroke-linecap="butt"/>
<line x1="538.65" y1="976.7" x2="560.55" y2="976.7" stroke="#5b9bd5" stroke-width="1.4" stroke-linecap="butt"/>
<line x1="543.8" y1="1003.2" x2="555.4" y2="1003.2" stroke="#5b9bd5" stroke-width="1.4" stroke-linecap="butt"/>
<polygon points="541.5,954.09 547.25,964.44 535.75,964.44" fill="#5b9bd5"/>
<polygon points="555.8,959.59 561.55,969.94 550.05,969.94" fill="#5b9bd5"/>
<polygon points="549.8,1001.09 555.55,1011.44 544.05,1011.44" fill="#5b9bd5"/>
<text text-anchor="end" transform="translate(491.6,1144.8) rotate(-45)" font-size="21" fill="#231f20">EV</text>
<text text-anchor="end" transform="translate(525.1,1148.4) rotate(-45)" font-size="21" fill="#231f20">WT</text>
<text text-anchor="end" transform="translate(561.3,1137.8) rotate(-45)" font-size="21" fill="#231f20">AFPA</text>
<line x1="462.8" y1="1179.6" x2="570.8" y2="1179.6" stroke="#3d2d2d" stroke-width="1.4" stroke-linecap="butt"/>
<text x="498.18" y="1198" font-size="21.5" fill="#231f20">KO</text>
</svg>
</body></html>
